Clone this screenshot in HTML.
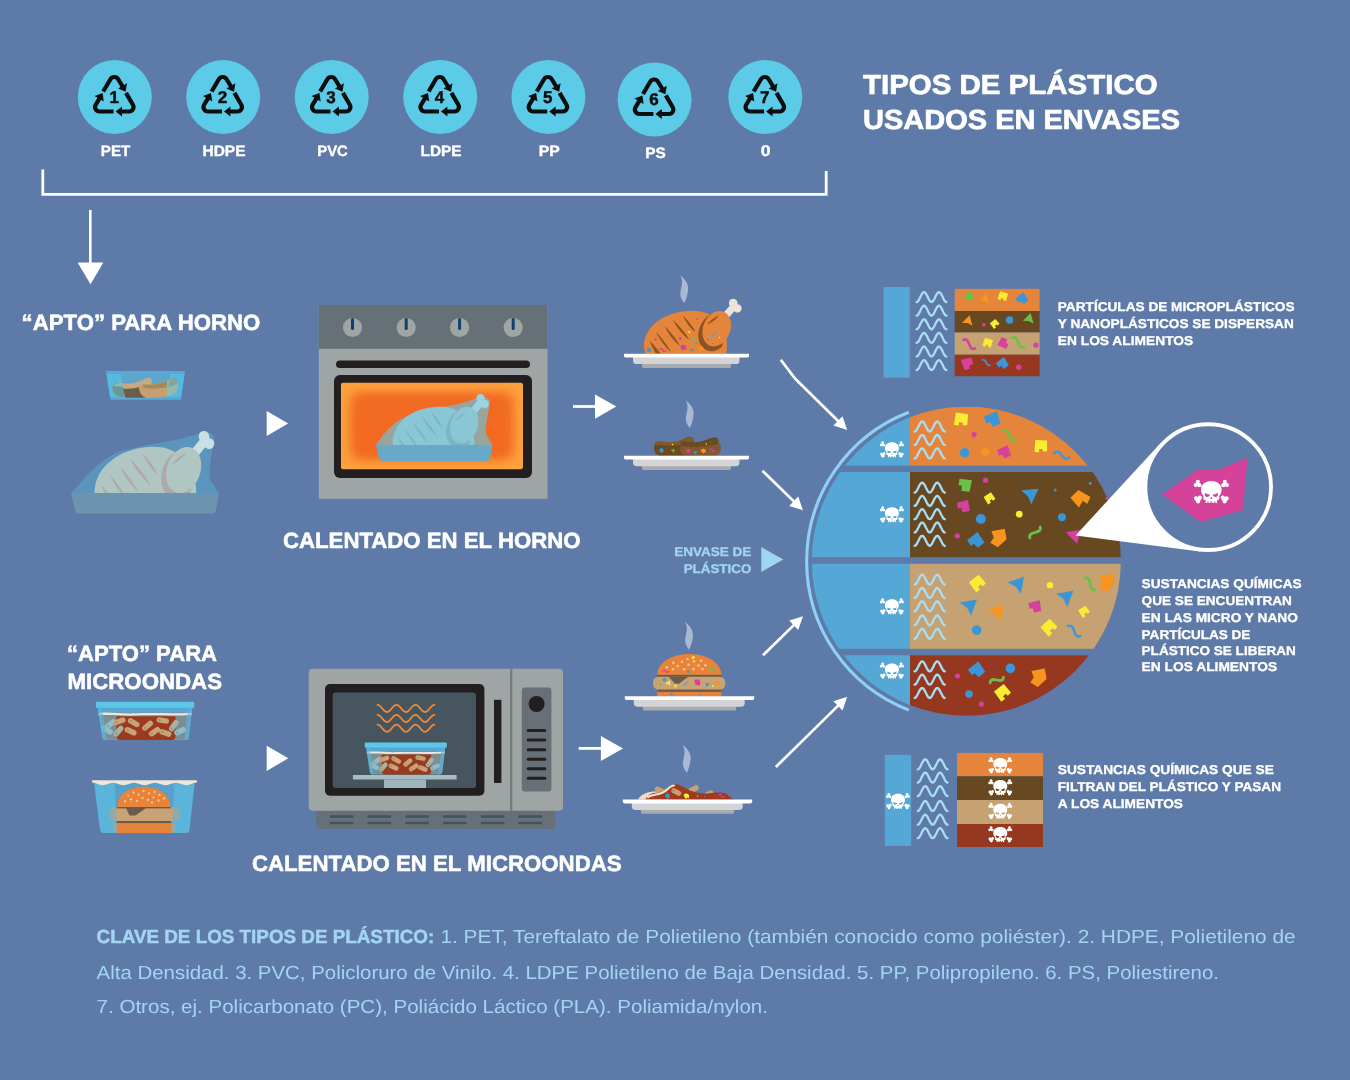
<!DOCTYPE html>
<html lang="es"><head><meta charset="utf-8"><title>Tipos de plástico usados en envases</title>
<style>
html,body{margin:0;padding:0;background:#5d7aa8;}
body{width:1350px;height:1080px;overflow:hidden;font-family:'Liberation Sans', sans-serif;}
svg{display:block;font-family:'Liberation Sans', sans-serif;}
text{text-rendering:geometricPrecision;}
</style></head><body>
<svg width="1350" height="1080" viewBox="0 0 1350 1080">
<rect width="1350" height="1080" fill="#5d7aa8"/>
<g opacity="0.999">
<defs>
<g id="rec" fill="none" stroke="#0d0d0d" stroke-width="4.2" stroke-linejoin="round">
<path d="M-11.6,-6 L-4.4,-18.25 A4.5 4.5 0 0 1 3.4,-18.25 L8.1,-10.5"/>
<path d="M11.2,-4.6 L18.1,7.25 A4.5 4.5 0 0 1 14.2,14 L6.5,14"/>
<path d="M-1.2,14 L-15.2,14 A4.5 4.5 0 0 1 -19.1,7.25 L-14.9,0.3"/>
<g fill="#0d0d0d" stroke="none">
<path d="M10.8,-5.8 L12.2,-14.2 L3.2,-9 Z"/>
<path d="M0.8,14 L7.2,9 L7.2,19 Z"/>
<path d="M-12.2,-4.4 L-20.2,-1.4 L-11,3.9 Z"/>
</g></g></defs>
<circle cx="114.8" cy="97" r="37" fill="#5bcbe8"/>
<use href="#rec" x="114.8" y="97.5"/>
<text x="114.2" y="102.6" font-size="17" font-weight="bold" fill="#0d0d0d" text-anchor="middle" stroke="#0d0d0d" stroke-width="0.43" stroke-linejoin="round">1</text>
<text x="100.85" y="156.1" font-size="15" font-weight="bold" fill="#fff" text-anchor="start" stroke="#fff" stroke-width="0.38" stroke-linejoin="round" textLength="29.5" lengthAdjust="spacingAndGlyphs">PET</text>
<circle cx="223.2" cy="97" r="37" fill="#5bcbe8"/>
<use href="#rec" x="223.2" y="97.5"/>
<text x="222.6" y="102.6" font-size="17" font-weight="bold" fill="#0d0d0d" text-anchor="middle" stroke="#0d0d0d" stroke-width="0.43" stroke-linejoin="round">2</text>
<text x="202.5" y="156.1" font-size="15" font-weight="bold" fill="#fff" text-anchor="start" stroke="#fff" stroke-width="0.38" stroke-linejoin="round" textLength="43" lengthAdjust="spacingAndGlyphs">HDPE</text>
<circle cx="331.7" cy="97" r="37" fill="#5bcbe8"/>
<use href="#rec" x="331.7" y="97.5"/>
<text x="331.09999999999997" y="102.6" font-size="17" font-weight="bold" fill="#0d0d0d" text-anchor="middle" stroke="#0d0d0d" stroke-width="0.43" stroke-linejoin="round">3</text>
<text x="317.25" y="156.1" font-size="15" font-weight="bold" fill="#fff" text-anchor="start" stroke="#fff" stroke-width="0.38" stroke-linejoin="round" textLength="30.5" lengthAdjust="spacingAndGlyphs">PVC</text>
<circle cx="440.2" cy="97" r="37" fill="#5bcbe8"/>
<use href="#rec" x="440.2" y="97.5"/>
<text x="439.59999999999997" y="102.6" font-size="17" font-weight="bold" fill="#0d0d0d" text-anchor="middle" stroke="#0d0d0d" stroke-width="0.43" stroke-linejoin="round">4</text>
<text x="420.5" y="156.1" font-size="15" font-weight="bold" fill="#fff" text-anchor="start" stroke="#fff" stroke-width="0.38" stroke-linejoin="round" textLength="41" lengthAdjust="spacingAndGlyphs">LDPE</text>
<circle cx="548.4" cy="97" r="37" fill="#5bcbe8"/>
<use href="#rec" x="548.4" y="97.5"/>
<text x="547.8" y="102.6" font-size="17" font-weight="bold" fill="#0d0d0d" text-anchor="middle" stroke="#0d0d0d" stroke-width="0.43" stroke-linejoin="round">5</text>
<text x="538.6999999999999" y="156.1" font-size="15" font-weight="bold" fill="#fff" text-anchor="start" stroke="#fff" stroke-width="0.38" stroke-linejoin="round" textLength="21" lengthAdjust="spacingAndGlyphs">PP</text>
<circle cx="654.6" cy="99.5" r="37" fill="#5bcbe8"/>
<use href="#rec" x="654.6" y="100.0"/>
<text x="654.0" y="105.1" font-size="17" font-weight="bold" fill="#0d0d0d" text-anchor="middle" stroke="#0d0d0d" stroke-width="0.43" stroke-linejoin="round">6</text>
<text x="645.15" y="157.8" font-size="15" font-weight="bold" fill="#fff" text-anchor="start" stroke="#fff" stroke-width="0.38" stroke-linejoin="round" textLength="20.5" lengthAdjust="spacingAndGlyphs">PS</text>
<circle cx="765.3" cy="97" r="37" fill="#5bcbe8"/>
<use href="#rec" x="765.3" y="97.5"/>
<text x="764.6999999999999" y="102.6" font-size="17" font-weight="bold" fill="#0d0d0d" text-anchor="middle" stroke="#0d0d0d" stroke-width="0.43" stroke-linejoin="round">7</text>
<text x="760.6999999999999" y="156.4" font-size="15.5" font-weight="bold" fill="#fff" text-anchor="start" stroke="#fff" stroke-width="0.39" stroke-linejoin="round" textLength="9.8" lengthAdjust="spacingAndGlyphs">0</text>
<path d="M42.8,169.5 V194.3 H826.2 V171" fill="none" stroke="#fff" stroke-width="2.8"/>
<path d="M90.3,210 V265" stroke="#fff" stroke-width="2.6" fill="none"/>
<path d="M77.6,262.5 H103.4 L90.5,284.2 Z" fill="#fff"/>
<text x="863" y="93.9" font-size="27.5" font-weight="bold" fill="#fff" text-anchor="start" stroke="#fff" stroke-width="0.69" stroke-linejoin="round" textLength="294.6" lengthAdjust="spacingAndGlyphs">TIPOS DE PLÁSTICO</text>
<text x="863" y="129.4" font-size="27.5" font-weight="bold" fill="#fff" text-anchor="start" stroke="#fff" stroke-width="0.69" stroke-linejoin="round" textLength="317" lengthAdjust="spacingAndGlyphs">USADOS EN ENVASES</text>
<text x="21.6" y="330" font-size="22" font-weight="bold" fill="#fff" text-anchor="start" stroke="#fff" stroke-width="0.55" stroke-linejoin="round" textLength="238.6" lengthAdjust="spacingAndGlyphs">“APTO” PARA HORNO</text>
<text x="283" y="547.5" font-size="22" font-weight="bold" fill="#fff" text-anchor="start" stroke="#fff" stroke-width="0.55" stroke-linejoin="round" textLength="297.5" lengthAdjust="spacingAndGlyphs">CALENTADO EN EL HORNO</text>
<text x="67" y="661" font-size="22" font-weight="bold" fill="#fff" text-anchor="start" stroke="#fff" stroke-width="0.55" stroke-linejoin="round" textLength="150" lengthAdjust="spacingAndGlyphs">“APTO” PARA</text>
<text x="67.5" y="688.7" font-size="22" font-weight="bold" fill="#fff" text-anchor="start" stroke="#fff" stroke-width="0.55" stroke-linejoin="round" textLength="154.5" lengthAdjust="spacingAndGlyphs">MICROONDAS</text>
<text x="251.9" y="870.7" font-size="22" font-weight="bold" fill="#fff" text-anchor="start" stroke="#fff" stroke-width="0.55" stroke-linejoin="round" textLength="369.7" lengthAdjust="spacingAndGlyphs">CALENTADO EN EL MICROONDAS</text>
<path d="M266.7,411 L288.2,423.5 L266.7,436 Z" fill="#fff"/>
<path d="M266.7,745.7 L288.3,758.3 L266.7,770.9 Z" fill="#fff"/>
<path d="M573,406.5 H598" stroke="#fff" stroke-width="2.8"/><path d="M595,394.5 L616.3,406.6 L595,418.8 Z" fill="#fff"/>
<path d="M578.7,748.4 H604" stroke="#fff" stroke-width="2.8"/><path d="M600.9,736 L623,748.5 L600.9,761 Z" fill="#fff"/>
<g>
<path d="M106,371 H185 L181,399.8 H110.5 Z" fill="#57aad6"/>
<path d="M115.5,374.5 H176 L173,396.5 H118.5 Z" fill="#5ea6cc"/>
<path d="M106.5,374 H121 L124,397 H110 Z" fill="#55bde4" opacity=".85"/>
<path d="M170.5,374 H184.5 L181,397 H167 Z" fill="#55bde4" opacity=".85"/>
<path d="M112.5,390 C111,384 116,381.5 123,383 C131,385 139,382 146,378.5 C150,376.5 153,379 151.5,383 L150,397.5 H122 C116,397.5 113.5,394 112.5,390 Z" fill="#c3ab84"/>
<path d="M122.5,388.500 C130,389.500 138,388 146,385 L145,397.8 H125.5 Z" fill="#6b5d4c"/>
<path d="M112.5,390 C111,384 116,381.5 122,383 L125,397.5 C117,397.5 113.5,394 112.5,390 Z" fill="#65999a"/>
<path d="M113.500,386.500 C114.500,383 118,382.200 122,383 L122.700,387.200 C119,386 116,386 113.500,386.500 Z" fill="#8db9b1"/>
<path d="M139,388 C138.5,384.5 143,383.5 150,384 C159,384.5 166,381.5 171,379 C176,377 178.5,380 177,384 C179,387 178,391 174,393.5 C169,396 163,397.5 156,397.5 H146 C141,396 139.5,392 139,388 Z" fill="#c6a06e"/>
<path d="M143,384.5 C152,385.5 163,383.5 171,379 C176,377 178.5,380 176.5,384 C168,388.5 152,389.5 143,387.5 Z" fill="#a38a5f"/>
<path d="M167,381 C172,377.5 178.5,378 177,384 C179,387 178,391 174,393.5 C171.500,395 169,396 166.500,396.500 Z" fill="#93b9ad"/>
<path d="M169.500,380 C173.500,377.500 178.500,378 177,384 C174.500,385.500 171.500,386.500 168.500,387.200 Z" fill="#7fa99c"/>
</g>
<g>
<path d="M71.500,493 C85,478 96,462 118,452 C145,444 180,441 199,433.500 C206,431 211,432 214.500,436.500 C213,452 208,468 210,480 L219,493 Z" fill="#5b95bd"/>
<g transform="translate(93.400 470) scale(1.225 1.300) translate(-643 -328.700)"><path d="M723,318 L731.500,308.500 C729.500,304.500 732,301 735.500,301.500 C738.500,302 739.800,304.500 739.300,307 C742.500,307 744.500,310 743,313 C741.500,316 738,316 736,314 L728.500,323 Z" fill="#c8e0e3" transform="translate(-1.800 -2.800)"/><path d="M645.500,353.700 C640,339 650,321 672,314 C690,308.500 706,310.500 714,318 C724,327 729.500,340 726,353.700 Z" fill="#b0c6c3"/><g fill="#afa9ad"><path d="M649.500,340.500 C653,344 657.500,349.500 660.500,353.700 L656,353.700 C653.500,349.500 651,344.500 649.500,340.500 Z"/><path d="M656,332 C662,338 668,346.500 671,352 C665.500,347.500 659.500,339 656,332 Z"/><path d="M664.500,326 C671,332 677,340.500 680,346 C674,341.500 668,333 664.500,326 Z"/><path d="M673,320 C680,326 686.500,335 689.500,340 C683,335.500 676.500,327 673,320 Z"/><path d="M683,316 C689,321 693.500,328 695.500,332 C690,328.500 685.500,321.500 683,316 Z"/></g><clipPath id="ckct"><path d="M645.500,353.700 C640,339 650,321 672,314 C690,308.500 706,310.500 714,318 C724,327 729.500,340 726,353.700 Z"/></clipPath><ellipse cx="714.200" cy="332" rx="15.200" ry="19.800" transform="rotate(22 714.200 332)" fill="#afa9ad" clip-path="url(#ckct)"/><ellipse cx="716.700" cy="328.700" rx="13.600" ry="18.300" transform="rotate(22 716.700 328.700)" fill="#b0c6c3"/><path d="M707,324.500 C710,320.500 715,317 719,315.500 C716,319.500 711,323 707,324.500 Z" fill="#afa9ad"/></g>
<path d="M71,493 H219 L216,510 C215.500,512.500 214,513.500 212,513.500 H79 C77,513.500 75.500,512.500 75,510 Z" fill="#6d94ae"/>
</g>
<defs><filter id="hb" x="-20%" y="-20%" width="140%" height="140%"><feGaussianBlur stdDeviation="5.5"/></filter><clipPath id="hw"><rect x="340.800" y="382.500" width="182.200" height="87" rx="3"/></clipPath></defs>
<rect x="318.8" y="305" width="228.8" height="193.8" fill="#9fa5a5"/>
<rect x="318.8" y="305" width="228.8" height="43.8" fill="#667076"/>
<circle cx="352.5" cy="327.5" r="9.6" fill="#9fa5a5"/><path d="M352.5,319.5 V328.500" stroke="#0f3f6d" stroke-width="3" stroke-linecap="round"/>
<circle cx="406.2" cy="327.5" r="9.6" fill="#9fa5a5"/><path d="M406.2,319.5 V328.500" stroke="#0f3f6d" stroke-width="3" stroke-linecap="round"/>
<circle cx="459.6" cy="327.5" r="9.6" fill="#9fa5a5"/><path d="M459.6,319.5 V328.500" stroke="#0f3f6d" stroke-width="3" stroke-linecap="round"/>
<circle cx="513.2" cy="327.5" r="9.6" fill="#9fa5a5"/><path d="M513.2,319.5 V328.500" stroke="#0f3f6d" stroke-width="3" stroke-linecap="round"/>
<rect x="336" y="360.500" width="194" height="7.600" rx="3.800" fill="#231f20"/>
<rect x="334" y="375" width="198" height="103" rx="6" fill="#231f20"/>
<g clip-path="url(#hw)"><rect x="340.800" y="382.500" width="182.200" height="87" fill="#fda23e"/><rect x="350.800" y="392.500" width="162.200" height="67" rx="8" fill="#f26a21" filter="url(#hb)"/><rect x="356" y="398" width="152" height="56" rx="10" fill="#f26a21" filter="url(#hb)"/></g>
<g>
<path d="M376,445 C386,430 395,420 412,414 C432,408 458,406 474,399 C480,395.500 486,396 490,400 C489,412 485,424 486,434 L492.500,445 Z" fill="#98a59f"/>
<g transform="translate(464.250 425) scale(0.985 1.030) translate(-716.700 -328.700)"><path d="M723,318 L731.500,308.500 C729.500,304.500 732,301 735.500,301.500 C738.500,302 739.800,304.500 739.300,307 C742.500,307 744.500,310 743,313 C741.500,316 738,316 736,314 L728.500,323 Z" fill="#9ad4e2" transform="translate(-1.800 -2.800)"/><path d="M645.500,353.700 C640,339 650,321 672,314 C690,308.500 706,310.500 714,318 C724,327 729.500,340 726,353.700 Z" fill="#8ac7d4"/><g fill="#7fb4c6"><path d="M649.500,340.500 C653,344 657.500,349.500 660.500,353.700 L656,353.700 C653.500,349.500 651,344.500 649.500,340.500 Z"/><path d="M656,332 C662,338 668,346.500 671,352 C665.500,347.500 659.500,339 656,332 Z"/><path d="M664.500,326 C671,332 677,340.500 680,346 C674,341.500 668,333 664.500,326 Z"/><path d="M673,320 C680,326 686.500,335 689.500,340 C683,335.500 676.500,327 673,320 Z"/><path d="M683,316 C689,321 693.500,328 695.500,332 C690,328.500 685.500,321.500 683,316 Z"/></g><clipPath id="ckco"><path d="M645.500,353.700 C640,339 650,321 672,314 C690,308.500 706,310.500 714,318 C724,327 729.500,340 726,353.700 Z"/></clipPath><ellipse cx="714.200" cy="332" rx="15.200" ry="19.800" transform="rotate(22 714.200 332)" fill="#7fb4c6" clip-path="url(#ckco)"/><ellipse cx="716.700" cy="328.700" rx="13.600" ry="18.300" transform="rotate(22 716.700 328.700)" fill="#8ac7d4"/><path d="M707,324.500 C710,320.500 715,317 719,315.500 C716,319.500 711,323 707,324.500 Z" fill="#7fb4c6"/></g>
<path d="M376,445 H492.500 L490,458 C489.500,460 488.500,461 486.500,461 H382.500 C380.500,461 379.500,460 379,458 Z" fill="#67a9c6"/>
</g>
<rect x="316.400" y="806" width="239" height="22.700" rx="3" fill="#667076"/>
<rect x="308.700" y="668.700" width="254.300" height="142" rx="4" fill="#9fa5a5"/>
<rect x="510" y="668.700" width="2.400" height="142" fill="#737d80"/>
<rect x="325" y="684" width="159.400" height="111.800" rx="5" fill="#231f20"/>
<rect x="332.700" y="692.400" width="143.300" height="95.600" rx="3" fill="#46555e"/>
<rect x="494" y="699.800" width="7.400" height="83.200" fill="#231f20"/>
<rect x="521.800" y="687.600" width="29.600" height="104" rx="3" fill="#667076"/>
<circle cx="536.600" cy="704" r="8" fill="#231f20"/>
<path d="M528.200,730.6 H544.800" stroke="#231f20" stroke-width="3" stroke-linecap="round"/>
<path d="M528.200,740.1 H544.800" stroke="#231f20" stroke-width="3" stroke-linecap="round"/>
<path d="M528.200,749.7 H544.800" stroke="#231f20" stroke-width="3" stroke-linecap="round"/>
<path d="M528.200,759.2 H544.800" stroke="#231f20" stroke-width="3" stroke-linecap="round"/>
<path d="M528.200,768.8 H544.800" stroke="#231f20" stroke-width="3" stroke-linecap="round"/>
<path d="M528.200,778.3 H544.800" stroke="#231f20" stroke-width="3" stroke-linecap="round"/>
<path d="M330.8,816.5 H352.3" stroke="#3f5361" stroke-width="2.400" stroke-linecap="round"/>
<path d="M330.8,823 H352.3" stroke="#3f5361" stroke-width="2.400" stroke-linecap="round"/>
<path d="M368.6,816.5 H390.1" stroke="#3f5361" stroke-width="2.400" stroke-linecap="round"/>
<path d="M368.6,823 H390.1" stroke="#3f5361" stroke-width="2.400" stroke-linecap="round"/>
<path d="M406.3,816.5 H427.8" stroke="#3f5361" stroke-width="2.400" stroke-linecap="round"/>
<path d="M406.3,823 H427.8" stroke="#3f5361" stroke-width="2.400" stroke-linecap="round"/>
<path d="M444.1,816.5 H465.6" stroke="#3f5361" stroke-width="2.400" stroke-linecap="round"/>
<path d="M444.1,823 H465.6" stroke="#3f5361" stroke-width="2.400" stroke-linecap="round"/>
<path d="M481.8,816.5 H503.3" stroke="#3f5361" stroke-width="2.400" stroke-linecap="round"/>
<path d="M481.8,823 H503.3" stroke="#3f5361" stroke-width="2.400" stroke-linecap="round"/>
<path d="M519.5,816.5 H541.0" stroke="#3f5361" stroke-width="2.400" stroke-linecap="round"/>
<path d="M519.5,823 H541.0" stroke="#3f5361" stroke-width="2.400" stroke-linecap="round"/>
<polyline points="377.5,704.8 378.4,705.0 379.4,705.5 380.4,706.3 381.3,707.3 382.2,708.4 383.2,709.5 384.1,710.5 385.1,711.3 386.1,711.8 387.0,712.0 387.9,711.8 388.9,711.3 389.9,710.5 390.8,709.5 391.8,708.4 392.7,707.3 393.6,706.3 394.6,705.5 395.6,705.0 396.5,704.8 397.4,705.0 398.4,705.5 399.4,706.3 400.3,707.3 401.2,708.4 402.2,709.5 403.1,710.5 404.1,711.3 405.1,711.8 406.0,712.0 406.9,711.8 407.9,711.3 408.9,710.5 409.8,709.5 410.8,708.4 411.7,707.3 412.6,706.3 413.6,705.5 414.6,705.0 415.5,704.8 416.4,705.0 417.4,705.5 418.4,706.3 419.3,707.3 420.2,708.4 421.2,709.5 422.1,710.5 423.1,711.3 424.1,711.8 425.0,712.0 425.9,711.8 426.9,711.3 427.9,710.5 428.8,709.5 429.8,708.4 430.7,707.3 431.6,706.3 432.6,705.5 433.6,705.0 434.5,704.8" fill="none" stroke="#f0883a" stroke-width="1.800" stroke-linecap="round"/>
<polyline points="377.5,714.8 378.4,715.0 379.4,715.5 380.4,716.3 381.3,717.3 382.2,718.4 383.2,719.5 384.1,720.5 385.1,721.3 386.1,721.8 387.0,722.0 387.9,721.8 388.9,721.3 389.9,720.5 390.8,719.5 391.8,718.4 392.7,717.3 393.6,716.3 394.6,715.5 395.6,715.0 396.5,714.8 397.4,715.0 398.4,715.5 399.4,716.3 400.3,717.3 401.2,718.4 402.2,719.5 403.1,720.5 404.1,721.3 405.1,721.8 406.0,722.0 406.9,721.8 407.9,721.3 408.9,720.5 409.8,719.5 410.8,718.4 411.7,717.3 412.6,716.3 413.6,715.5 414.6,715.0 415.5,714.8 416.4,715.0 417.4,715.5 418.4,716.3 419.3,717.3 420.2,718.4 421.2,719.5 422.1,720.5 423.1,721.3 424.1,721.8 425.0,722.0 425.9,721.8 426.9,721.3 427.9,720.5 428.8,719.5 429.8,718.4 430.7,717.3 431.6,716.3 432.6,715.5 433.6,715.0 434.5,714.8" fill="none" stroke="#f0883a" stroke-width="1.800" stroke-linecap="round"/>
<polyline points="377.5,724.6 378.4,724.8 379.4,725.3 380.4,726.1 381.3,727.1 382.2,728.2 383.2,729.3 384.1,730.3 385.1,731.1 386.1,731.6 387.0,731.8 387.9,731.6 388.9,731.1 389.9,730.3 390.8,729.3 391.8,728.2 392.7,727.1 393.6,726.1 394.6,725.3 395.6,724.8 396.5,724.6 397.4,724.8 398.4,725.3 399.4,726.1 400.3,727.1 401.2,728.2 402.2,729.3 403.1,730.3 404.1,731.1 405.1,731.6 406.0,731.8 406.9,731.6 407.9,731.1 408.9,730.3 409.8,729.3 410.8,728.2 411.7,727.1 412.6,726.1 413.6,725.3 414.6,724.8 415.5,724.6 416.4,724.8 417.4,725.3 418.4,726.1 419.3,727.1 420.2,728.2 421.2,729.3 422.1,730.3 423.1,731.1 424.1,731.6 425.0,731.8 425.9,731.6 426.9,731.1 427.9,730.3 428.8,729.3 429.8,728.2 430.7,727.1 431.6,726.1 432.6,725.3 433.6,724.8 434.5,724.6" fill="none" stroke="#f0883a" stroke-width="1.800" stroke-linecap="round"/>
<rect x="352.900" y="775" width="103.700" height="4.500" fill="#a9bcc0"/>
<rect x="384" y="779.500" width="42" height="8.500" fill="#9fb6bd"/>
<use href="#pastabox" transform="translate(364.700 742.400) scale(0.836)"/>
<defs><g id="pastabox">
<path d="M1.600,5 H96.400 L92.800,35.500 C92.500,37.500 91.500,38.300 89.500,38.300 H9.500 C7.500,38.300 6.500,37.500 6.200,35.500 Z" fill="#5aa6d2"/>
<path d="M3.800,11 H94.400 L91.600,35.500 C91.400,37 90.600,37.500 89,37.500 H10 C8.400,37.500 7.600,37 7.400,35.500 Z" fill="#7c8e95"/>
<path d="M20.400,14.500 H79.500 V34.500 C79.500,37 78,38.300 76,38.300 H24 C22,38.300 20.400,37 20.400,34.500 Z" fill="#9c3a20"/>
<rect x="8.0" y="19.7" width="12.600" height="5.400" rx="2.700" fill="#8fbdc6" transform="rotate(-40 14.3 22.4)"/><circle cx="10.9" cy="22.4" r="1.300" fill="#000" opacity=".12" transform="rotate(-40 14.3 22.4)"/><rect x="4.9" y="25.8" width="12.600" height="5.400" rx="2.700" fill="#8fbdc6" transform="rotate(30 11.2 28.5)"/><circle cx="7.8" cy="28.5" r="1.300" fill="#000" opacity=".12" transform="rotate(30 11.2 28.5)"/><rect x="16.1" y="26.8" width="12.600" height="5.400" rx="2.700" fill="#a9b19f" transform="rotate(-50 22.4 29.5)"/><circle cx="19.0" cy="29.5" r="1.300" fill="#000" opacity=".12" transform="rotate(-50 22.4 29.5)"/><rect x="17.1" y="16.9" width="12.600" height="5.400" rx="2.700" fill="#c6a478" transform="rotate(-20 23.4 19.6)"/><circle cx="20.0" cy="19.6" r="1.300" fill="#000" opacity=".12" transform="rotate(-20 23.4 19.6)"/><rect x="31.4" y="18.3" width="12.600" height="5.400" rx="2.700" fill="#c6a478" transform="rotate(30 37.7 21)"/><circle cx="34.3" cy="21.0" r="1.300" fill="#000" opacity=".12" transform="rotate(30 37.7 21)"/><rect x="28.3" y="26.9" width="12.600" height="5.400" rx="2.700" fill="#c6a478" transform="rotate(25 34.6 29.6)"/><circle cx="31.2" cy="29.6" r="1.300" fill="#000" opacity=".12" transform="rotate(25 34.6 29.6)"/><rect x="45.3" y="21.3" width="12.600" height="5.400" rx="2.700" fill="#c6a478" transform="rotate(-40 51.6 24)"/><circle cx="48.2" cy="24.0" r="1.300" fill="#000" opacity=".12" transform="rotate(-40 51.6 24)"/><rect x="52.2" y="27.3" width="12.600" height="5.400" rx="2.700" fill="#c6a478" transform="rotate(-35 58.5 30)"/><circle cx="55.1" cy="30.0" r="1.300" fill="#000" opacity=".12" transform="rotate(-35 58.5 30)"/><rect x="60.5" y="16.1" width="12.600" height="5.400" rx="2.700" fill="#c6a478" transform="rotate(10 66.8 18.8)"/><circle cx="63.4" cy="18.8" r="1.300" fill="#000" opacity=".12" transform="rotate(10 66.8 18.8)"/><rect x="63.0" y="28.5" width="12.600" height="5.400" rx="2.700" fill="#c6a478" transform="rotate(20 69.3 31.2)"/><circle cx="65.9" cy="31.2" r="1.300" fill="#000" opacity=".12" transform="rotate(20 69.3 31.2)"/><rect x="71.5" y="21.3" width="12.600" height="5.400" rx="2.700" fill="#a9b19f" transform="rotate(-55 77.8 24)"/><circle cx="74.4" cy="24.0" r="1.300" fill="#000" opacity=".12" transform="rotate(-55 77.8 24)"/><rect x="77.8" y="26.8" width="12.600" height="5.400" rx="2.700" fill="#8fbdc6" transform="rotate(-25 84.1 29.5)"/><circle cx="80.7" cy="29.5" r="1.300" fill="#000" opacity=".12" transform="rotate(-25 84.1 29.5)"/>
<path d="M2.500,11.200 C15,10.200 25,12.200 40,11.600 C60,10.800 75,12.400 95.700,11 L95.500,13.300 C75,14.600 60,13 40,13.900 C25,14.400 15,12.600 2.800,13.600 Z" fill="#efe6d8"/>
<path d="M1.600,6 H6 L10.500,38.300 H9.500 C7.500,38.300 6.500,37.500 6.200,35.500 Z" fill="#5bb7e0" opacity=".6"/>
<path d="M96.400,6 H92 L88,38.300 H89.500 C91.500,38.300 92.500,37.500 92.800,35.500 Z" fill="#5bb7e0" opacity=".6"/>
<path d="M0,1.500 C0,.5 .5,0 1.500,0 H96.700 C97.700,0 98.200,.5 98.200,1.500 V6.100 H0 Z" fill="#5bc8e8"/>
</g></defs>
<use href="#pastabox" transform="translate(96 701.700)"/>
<g>
<path d="M94,782 H194.800 L189.500,829.500 C189.200,832 188,833 185.500,833 H104 C101.500,833 100.300,832 100,829.500 Z" fill="#5bb4da"/>
<path d="M114.500,782 H174.500 L172.500,833 H116.500 Z" fill="#589fca"/>
<path d="M117,807 C117,795 129,786.800 143.700,786.800 C158.500,786.800 170.400,795 170.400,807 Z" fill="#e8843a"/>
<circle cx="128.5" cy="795.5" r="1.150" fill="#f7c58f"/><circle cx="133.5" cy="792.5" r="1.150" fill="#f7c58f"/><circle cx="138.5" cy="794.5" r="1.150" fill="#f7c58f"/><circle cx="143.5" cy="791" r="1.150" fill="#f7c58f"/><circle cx="149" cy="793.5" r="1.150" fill="#f7c58f"/><circle cx="154.5" cy="792" r="1.150" fill="#f7c58f"/><circle cx="159.5" cy="795" r="1.150" fill="#f7c58f"/><circle cx="131" cy="799.5" r="1.150" fill="#f7c58f"/><circle cx="137" cy="801" r="1.150" fill="#f7c58f"/><circle cx="142.5" cy="798" r="1.150" fill="#f7c58f"/><circle cx="148" cy="800" r="1.150" fill="#f7c58f"/><circle cx="153.5" cy="797.5" r="1.150" fill="#f7c58f"/><circle cx="158.5" cy="800.5" r="1.150" fill="#f7c58f"/><circle cx="164" cy="798.5" r="1.150" fill="#f7c58f"/><circle cx="125" cy="801.5" r="1.150" fill="#f7c58f"/><circle cx="152" cy="802.5" r="1.150" fill="#f7c58f"/>
<rect x="110" y="807" width="70" height="14.500" rx="5" fill="#c8a375"/>
<path d="M125.500,807 H147.500 L135.500,815.500 L129.500,815.500 Z" fill="#6b5b4b"/>
<rect x="116.500" y="807" width="54.500" height="1.400" fill="#6b5b4b"/>
<rect x="116.500" y="821" width="54.500" height="2.400" fill="#6b5b4b"/>
<path d="M113.500,823.400 H175.800 V829 C175.800,832 174.500,833 172.500,833 H117 C115,833 113.500,832 113.500,829 Z" fill="#c8a375"/><path d="M116.800,823.400 H171.800 V833 H116.800 Z" fill="#e8843a"/>
<path d="M94,782 H115.300 L117,833 H104 C101.500,833 100.300,832 100,829.500 Z" fill="#5bb4da" opacity=".5"/>
<path d="M194.800,782 H173.800 L172,833 H185.500 C188,833 189.200,832 189.500,829.500 Z" fill="#5bb4da" opacity=".5"/>
<path d="M92,780.300 H196.900 V782.600 C192,783 190,785.200 186.400,785.200 C182.800,785.200 180,782.800 176,782.800 C172,782.800 169.500,785.200 165.500,785.200 C161.500,785.200 159,782.800 155,782.800 C151,782.800 148.500,785.200 144.500,785.200 C140.500,785.200 138,782.800 134,782.800 C130,782.800 127.500,785.200 123.500,785.200 C119.500,785.200 117,782.800 113,782.800 C109,782.800 106.500,785.200 102.500,785.200 C99,785.200 97,783 92,782.600 Z" fill="#efe6dc"/>
</g>
<path d="M680,275 C685.5,279.5 689.0,284.0 688.0,290.5 C687.5,295.0 686.5,298.5 684.3,303.0 C681.5,299.5 679.7,296.0 680.5,291.5 C681.5,286.0 683.5,281.0 680,275 Z" fill="#a9b8d4"/>
<path d="M723,318 L731.500,308.500 C729.500,304.500 732,301 735.500,301.500 C738.500,302 739.800,304.500 739.300,307 C742.500,307 744.500,310 743,313 C741.500,316 738,316 736,314 L728.500,323 Z" fill="#ece3da" transform="translate(-1.800 -2.800)"/><path d="M645.500,353.700 C640,339 650,321 672,314 C690,308.500 706,310.500 714,318 C724,327 729.500,340 726,353.700 Z" fill="#e5843b"/><g fill="#8c5422"><path d="M649.500,340.500 C653,344 657.500,349.500 660.500,353.700 L656,353.700 C653.500,349.500 651,344.500 649.500,340.500 Z"/><path d="M656,332 C662,338 668,346.500 671,352 C665.500,347.500 659.500,339 656,332 Z"/><path d="M664.500,326 C671,332 677,340.500 680,346 C674,341.500 668,333 664.500,326 Z"/><path d="M673,320 C680,326 686.500,335 689.500,340 C683,335.500 676.500,327 673,320 Z"/><path d="M683,316 C689,321 693.500,328 695.500,332 C690,328.500 685.500,321.500 683,316 Z"/></g><clipPath id="ckcp"><path d="M645.500,353.700 C640,339 650,321 672,314 C690,308.500 706,310.500 714,318 C724,327 729.500,340 726,353.700 Z"/></clipPath><ellipse cx="714.200" cy="332" rx="15.200" ry="19.800" transform="rotate(22 714.200 332)" fill="#8c5422" clip-path="url(#ckcp)"/><ellipse cx="716.700" cy="328.700" rx="13.600" ry="18.300" transform="rotate(22 716.700 328.700)" fill="#e5843b"/><path d="M707,324.500 C710,320.500 715,317 719,315.500 C716,319.500 711,323 707,324.500 Z" fill="#8c5422"/>
<polygon points="646.8,348.4 649.5,347.8 651.2,349.6 650.6,352.2 649.2,351.4 648.3,352.2 647.2,350.9" fill="#3a96d6" transform="rotate(10 649 350)"/>
<path d="M659.5,349.5 Q662.6,347.7 662.8,350.2 T666.0,351.0" fill="none" stroke="#d6409f" stroke-width="1.3" stroke-linecap="round"/>
<circle cx="655.5" cy="339.5" r="1.2" fill="#d6409f"/>
<circle cx="667.3" cy="337.3" r="0.8" fill="#3a96d6"/>
<circle cx="680.2" cy="338.5" r="1.4" fill="#d6409f"/>
<polygon points="680.5,345.4 684.1,344.5 686.5,346.9 685.6,350.5 683.8,349.3 682.6,350.5 681.1,348.7" fill="#d6409f" transform="rotate(-10 683.5 347.5)"/>
<circle cx="689.2" cy="332" r="1.1" fill="#f9ed32"/>
<polygon points="689.5,338.3 695.5,336.5 694.0,342.5 692.8,339.8" fill="#6cc04a" transform="rotate(20 692.5 339.5)"/>
<polygon points="690.2,348.1 694.8,346.8 693.6,351.2 692.7,349.2" fill="#3a96d6" transform="rotate(150 692.5 349)"/>
<polygon points="698.5,346.8 701.5,346.0 703.5,348.0 702.8,351.0 701.2,350.0 700.2,351.0 699.0,349.5" fill="#f7941d" transform="rotate(-20 701 348.5)"/>
<circle cx="696.5" cy="343" r="0.8" fill="#3a96d6"/>
<circle cx="697.3" cy="319" r="0.9" fill="#d6409f"/>
<path d="M712.5,336.5 Q712.6,334.8 714.5,334.0 T716.5,331.5" fill="none" stroke="#5b9ecf" stroke-width="1.1" stroke-linecap="round"/>
<circle cx="708.3" cy="339.5" r="1" fill="#3a96d6"/>
<circle cx="719.5" cy="337.5" r="0.7" fill="#f9ed32"/>
<circle cx="712.5" cy="343.5" r="0.6" fill="#d6409f"/>
<path d="M642.0,362.7 H731.0 V366.2 C731.0,367.9 730.0,367.9 728.5,367.9 H644.5 C643.0,367.9 642.0,367.9 642.0,366.2 Z" fill="#a9abae"/>
<path d="M633.0,355.7 H739.5 V360.7 C739.5,363.2 738.0,364.1 735.5,364.1 H637.0 C634.5,364.1 633.0,363.2 633.0,360.7 Z" fill="#d3d4d6"/>
<path d="M624.0,353.7 H749.0 V355.7 C749.0,356.9 748.3,357.5 747.0,357.5 H626.0 C624.7,357.5 624.0,356.9 624.0,355.7 Z" fill="#fff"/>
<path d="M685.5,400 C691.0,404.5 694.5,409.0 693.5,415.5 C693.0,420.0 692.0,423.5 689.8,428.0 C687.0,424.5 685.2,421.0 686.0,416.5 C687.0,411.0 689.0,406.0 685.5,400 Z" fill="#a9b8d4"/>
<path d="M654.100,448.500 C654.100,444 655.500,441.500 659,441.500 C664,441.800 670,442.500 676.500,441.700 C681,441 684,438.500 687,437.300 C690.500,436 693.500,437 693.600,440 L693.600,455.800 H662 C657,455.800 654.100,453 654.100,448.500 Z" fill="#6b4a21"/>
<path d="M655.800,445.200 C655,442.500 656.500,441.300 659,441.500 C664,441.800 670,442.500 676.500,441.700 C681,441 684,438.500 687,437.300 C690.500,436 693.500,437 693.600,440 C693.300,442 692,442.600 690,442.900 C686,443.600 682,445 676.500,445.400 C670,445.800 662,444.700 655.800,445.200 Z" fill="#80592f"/>
<path d="M680.300,449.500 C680.300,446 681.500,443.500 684,443.200 L717,442 C720,443 721.200,446 720.900,448.800 C720.500,452.500 718,455.800 713,455.800 H687 C683,455.800 680.300,453.500 680.300,449.500 Z" fill="#80592f"/>
<path d="M681,444 C680.800,441.800 682,440.800 684.500,441.200 C688,441.800 692,442.500 695.400,442.300 C700,442 704,440.500 708,439.200 C710.500,438.300 712.500,437.300 714.500,437.200 C717,437 718.500,438.500 718.500,440.500 C718.600,442.500 718.300,443.500 717.500,444 C714,445 711,445.200 708,445.600 C704,446.300 700,447 695.400,447 C691,447 686,446.300 682.800,446 C681.500,445.600 681,445 681,444 Z" fill="#6b4a21"/>
<polygon points="659.2,448.9 662.0,448.2 663.8,450.1 663.1,452.8 661.7,451.9 660.8,452.8 659.7,451.4" fill="#3a96d6" transform="rotate(30 661.5 450.5)"/>
<polygon points="670.2,450.1 674.8,448.8 673.6,453.2 672.7,451.2" fill="#6cc04a" transform="rotate(10 672.5 451)"/>
<circle cx="672.5" cy="444.5" r="0.8" fill="#f9ed32"/>
<polygon points="686.2,449.4 689.0,448.8 690.8,450.6 690.1,453.2 688.7,452.4 687.8,453.2 686.7,451.9" fill="#d6409f" transform="rotate(-10 688.5 451)"/>
<polygon points="693.2,450.6 697.8,449.2 696.6,453.8 695.7,451.7" fill="#3a96d6" transform="rotate(150 695.5 451.5)"/>
<polygon points="701.0,449.2 704.0,448.5 706.0,450.5 705.2,453.5 703.8,452.5 702.8,453.5 701.5,452.0" fill="#f7941d" transform="rotate(-20 703.5 451)"/>
<path d="M709.5,449.5 Q712.2,448.0 712.2,450.2 T715.0,451.0" fill="none" stroke="#d6409f" stroke-width="1.2" stroke-linecap="round"/>
<circle cx="706.3" cy="444" r="0.8" fill="#f9ed32"/>
<circle cx="701.5" cy="444" r="0.5" fill="#d6409f"/>
<circle cx="710.5" cy="442" r="0.5" fill="#3a96d6"/>
<circle cx="709.5" cy="452.5" r="0.7" fill="#3a96d6"/>
<path d="M642.0,464.8 H731.0 V468.3 C731.0,470.0 730.0,470.0 728.5,470.0 H644.5 C643.0,470.0 642.0,470.0 642.0,468.3 Z" fill="#a9abae"/>
<path d="M633.0,457.8 H739.5 V462.8 C739.5,465.3 738.0,466.2 735.5,466.2 H637.0 C634.5,466.2 633.0,465.3 633.0,462.8 Z" fill="#d3d4d6"/>
<path d="M624.0,455.8 H749.0 V457.8 C749.0,459.0 748.3,459.6 747.0,459.6 H626.0 C624.7,459.6 624.0,459.0 624.0,457.8 Z" fill="#fff"/>
<path d="M684.8,621.8 C690.3,626.3 693.8,630.8 692.8,637.3 C692.3,641.8 691.3,645.3 689.1,649.8 C686.3,646.3 684.5,642.8 685.3,638.3 C686.3,632.8 688.3,627.8 684.8,621.8 Z" fill="#a9b8d4"/>
<path d="M657.200,675.200 C657.200,663 671,654 689.300,654 C707.500,654 721.400,663 721.400,675.200 Z" fill="#e8843a"/>
<circle cx="666.8" cy="667.2" r="1.25" fill="#f7c58f"/>
<circle cx="673.3" cy="662.8" r="1.25" fill="#f7c58f"/>
<circle cx="677.8" cy="666" r="1.25" fill="#f7c58f"/>
<circle cx="682" cy="661.8" r="1.25" fill="#f7c58f"/>
<circle cx="687.5" cy="659" r="1.25" fill="#f7c58f"/>
<circle cx="688.5" cy="664.7" r="1.25" fill="#f7c58f"/>
<circle cx="694" cy="661.2" r="1.25" fill="#f7c58f"/>
<circle cx="701.2" cy="660.8" r="1.25" fill="#f7c58f"/>
<circle cx="698.5" cy="665.5" r="1.25" fill="#f7c58f"/>
<circle cx="705.5" cy="665.3" r="1.25" fill="#f7c58f"/>
<circle cx="673" cy="669.2" r="1.25" fill="#f7c58f"/>
<circle cx="684" cy="669.3" r="1.25" fill="#f7c58f"/>
<circle cx="693.5" cy="669" r="1.25" fill="#f7c58f"/>
<circle cx="702.5" cy="669" r="1.25" fill="#f7c58f"/>
<circle cx="693.2" cy="657.5" r="1.5" fill="#f9ed32"/>
<rect x="657" y="674.800" width="64.500" height="2.200" fill="#6b5b4a"/>
<rect x="653" y="676.700" width="72.300" height="13" rx="5.500" fill="#c8a374"/>
<path d="M668.300,676.600 H688.500 L679,683.800 L675,683.800 Z" fill="#6b5b4a"/>
<rect x="658" y="689.600" width="63" height="2.400" fill="#6b5b4a"/>
<rect x="657.200" y="691.900" width="64.200" height="4.600" fill="#e8843a"/>
<path d="M662.5,671.0 Q665.0,669.2 665.5,671.2 T668.5,671.5" fill="none" stroke="#d6409f" stroke-width="1.2" stroke-linecap="round"/>
<circle cx="688.3" cy="671.8" r="1.3" fill="#3a96d6"/>
<polygon points="708.2,668.2 714.8,666.2 713.1,672.8 711.8,669.8" fill="#6cc04a" transform="rotate(10 711.5 669.5)"/>
<circle cx="664.5" cy="679.8" r="1.9" fill="#3a96d6"/>
<circle cx="660.3" cy="684.6" r="1" fill="#6cc04a"/>
<polygon points="665.0,682.8 671.0,681.0 669.5,687.0 668.3,684.3" fill="#f9ed32" transform="rotate(-20 668 684)"/>
<circle cx="675.5" cy="686" r="1.4" fill="#f9ed32"/>
<path d="M683.5,686.0 Q683.8,684.3 685.5,683.8 T687.5,681.5" fill="none" stroke="#5b9ecf" stroke-width="1.2" stroke-linecap="round"/>
<polygon points="694.2,680.2 698.1,679.2 700.8,681.9 699.8,685.8 697.8,684.5 696.5,685.8 694.9,683.8" fill="#d6409f" transform="rotate(10 697.5 682.5)"/>
<polygon points="705.0,682.5 710.0,681.0 708.8,686.0 707.8,683.8" fill="#3a96d6" transform="rotate(150 707.5 683.5)"/>
<circle cx="712.7" cy="686" r="1" fill="#f9ed32"/>
<polygon points="714.8,681.1 718.0,680.2 720.2,682.5 719.4,685.8 717.8,684.6 716.7,685.8 715.3,684.1" fill="#f7941d" transform="rotate(-20 717.5 683)"/>
<circle cx="671.5" cy="693.8" r="1.4" fill="#3a96d6"/>
<circle cx="700.5" cy="694" r="0.8" fill="#3a96d6"/>
<circle cx="663" cy="693.5" r="0.6" fill="#3a96d6"/>
<path d="M642.8,705.3 H736.2 V708.8 C736.2,710.5 735.2,710.5 733.7,710.5 H645.3 C643.8,710.5 642.8,710.5 642.8,708.8 Z" fill="#a9abae"/>
<path d="M633.8,698.3 H744.7 V703.3 C744.7,705.8 743.2,706.7 740.7,706.7 H637.8 C635.3,706.7 633.8,705.8 633.8,703.3 Z" fill="#d3d4d6"/>
<path d="M624.8,696.3 H754.2 V698.3 C754.2,699.5 753.5,700.1 752.2,700.1 H626.8 C625.5,700.1 624.8,699.5 624.8,698.3 Z" fill="#fff"/>
<path d="M682.5,744.7 C688.0,749.2 691.5,753.7 690.5,760.2 C690.0,764.7 689.0,768.2 686.8,772.7 C684.0,769.2 682.2,765.7 683.0,761.2 C684.0,755.7 686.0,750.7 682.5,744.7 Z" fill="#a9b8d4"/>
<path d="M637.900,799.600 C641,794 648,791.500 656,791.500 C664,791.500 668,787.500 672.500,786 L668,799.600 Z" fill="#ecdcc8"/>
<rect x="654.500" y="787.800" width="11" height="5" rx="2.500" transform="rotate(25 660 790.300)" fill="#c6a172"/>
<rect x="688" y="786.500" width="11" height="5.500" rx="2.700" transform="rotate(-30 693.500 789.200)" fill="#c6a172"/>
<rect x="704" y="791.300" width="9.500" height="4.600" rx="2.300" transform="rotate(-20 708.700 793.600)" fill="#c6a172"/>
<path d="M645.600,799.600 C647,794.500 652,793 658,792.500 C665,792 669,786 673.500,784.500 C678,783.500 684,787.500 690,790.500 C697,793.500 705,794 712,793 C720,792 726,792.500 729,796 C731,798 732.500,799 733.900,799.600 Z" fill="#a03a1e"/>
<path d="M648,797 C652,794 660,795.500 666,790.500 C669,788 671,785.500 674,785.500" fill="none" stroke="#efe2d0" stroke-width="2.200" stroke-linecap="round"/>
<rect x="671" y="789.500" width="10.500" height="5" rx="2.500" transform="rotate(28 676.200 792)" fill="#c6a172"/><circle cx="673.300" cy="790.500" r="1.300" fill="#a88a5e"/>
<circle cx="652.8" cy="797.2" r="0.9" fill="#d6409f"/>
<polygon points="665.0,794.2 668.0,793.5 670.0,795.5 669.2,798.5 667.8,797.5 666.8,798.5 665.5,797.0" fill="#3a96d6" transform="rotate(40 667.5 796)"/>
<polygon points="683.8,794.1 687.0,793.2 689.2,795.5 688.4,798.8 686.8,797.6 685.7,798.8 684.3,797.1" fill="#f9ed32" transform="rotate(-10 686.5 796)"/>
<circle cx="697.5" cy="796" r="0.9" fill="#6cc04a"/>
<circle cx="705" cy="796.5" r="0.7" fill="#3a96d6"/>
<path d="M718.5,795.0 Q721.4,793.4 721.5,795.8 T724.5,796.5" fill="none" stroke="#d6409f" stroke-width="1.1" stroke-linecap="round"/>
<path d="M640.8,808.6 H734.2 V812.1 C734.2,813.8 733.2,813.8 731.7,813.8 H643.3 C641.8,813.8 640.8,813.8 640.8,812.1 Z" fill="#a9abae"/>
<path d="M631.8,801.6 H742.7 V806.6 C742.7,809.1 741.2,810.0 738.7,810.0 H635.8 C633.3,810.0 631.8,809.1 631.8,806.6 Z" fill="#d3d4d6"/>
<path d="M622.8,799.6 H752.2 V801.6 C752.2,802.8 751.5,803.4 750.2,803.4 H624.8 C623.5,803.4 622.8,802.8 622.8,801.6 Z" fill="#fff"/>
<path d="M798.3,381.7 L839.4,422.3" stroke="#fff" stroke-width="2.700" fill="none"/>
<path d="M847.2,430.0 L833.4,425.5 L842.5,416.2 Z" fill="#fff"/>
<path d="M780.800,359.700 L790,372 Q794,378 799.500,383" stroke="#fff" stroke-width="2.700" fill="none"/>
<path d="M762.5,470.8 L795.1,502.6" stroke="#fff" stroke-width="2.700" fill="none"/>
<path d="M803.0,510.3 L789.2,505.9 L798.2,496.6 Z" fill="#fff"/>
<path d="M763.0,655.3 L795.1,623.9" stroke="#fff" stroke-width="2.700" fill="none"/>
<path d="M803.0,616.2 L798.2,629.9 L789.2,620.6 Z" fill="#fff"/>
<path d="M775.8,767.0 L839.4,704.4" stroke="#fff" stroke-width="2.700" fill="none"/>
<path d="M847.2,696.7 L842.5,710.5 L833.4,701.2 Z" fill="#fff"/>
<defs><g id="skull" fill="#fff">
<path fill-rule="evenodd" d="M-0.100,-7.500 C4.200,-7.500 6.900,-4.900 6.900,-1.600 C6.900,0.200 6.300,1.600 5.300,2.600 L5.300,4.300 C5.300,5.100 4.800,5.500 4.100,5.500 L3.800,5.500 L3.800,7.500 L2.600,7.500 L2.600,6.600 L1.800,6.600 L1.800,7.600 L0.500,7.600 L0.500,6.600 L-0.700,6.600 L-0.700,7.600 L-2,7.600 L-2,6.600 L-2.800,6.600 L-2.800,7.500 L-4,7.500 L-4,5.500 L-4.300,5.500 C-5,5.500 -5.500,5.100 -5.500,4.300 L-5.500,2.600 C-6.500,1.600 -7.100,0.200 -7.100,-1.600 C-7.100,-4.900 -4.400,-7.500 -0.100,-7.500 Z
M-4.600,0.700 C-5,2.300 -4.100,3.500 -2.900,3.400 C-1.600,3.300 -0.900,2.600 -1,1.800 C-2.200,1.700 -3.600,1.300 -4.600,0.700 Z
M4.400,0.700 C4.800,2.300 3.900,3.500 2.700,3.400 C1.400,3.300 0.700,2.600 0.800,1.800 C2,1.700 3.400,1.300 4.400,0.700 Z
M-0.100,3.300 L0.650,4.800 L-0.850,4.800 Z"/>
<g id="bn"><circle cx="-9.300" cy="-7" r="1.350"/><circle cx="-10.700" cy="-4.700" r="1.400"/><circle cx="-8.200" cy="-4.600" r="1.400"/><path d="M-10.400,-5.800 L-9.300,-7 L-7.200,-4 L-8.600,-3.400 Z"/></g>
<use href="#bn" transform="translate(-0.200 0) scale(-1 1)"/>
<g id="bn2"><circle cx="-10.500" cy="4.400" r="1.400"/><circle cx="-7.900" cy="3.900" r="1.400"/><circle cx="-9.100" cy="6.600" r="1.300"/><path d="M-11.400,5.200 L-9.300,3.600 L-6.900,4.600 L-8.200,7.200 L-10,7.200 Z"/></g>
<use href="#bn2" transform="translate(-0.200 0) scale(-1 1)"/>
</g></defs>
<clipPath id="cc"><circle cx="966.3" cy="561.2" r="154.6"/></clipPath>
<g clip-path="url(#cc)">
<rect x="800" y="407" width="110.200" height="58.7" fill="#55a8d5"/>
<rect x="910" y="407" width="220" height="58.7" fill="#e5843b"/>
<rect x="800" y="472" width="110.200" height="85.2" fill="#55a8d5"/>
<rect x="910" y="472" width="220" height="85.2" fill="#674821"/>
<rect x="800" y="563.8" width="110.200" height="85.0" fill="#55a8d5"/>
<rect x="910" y="563.8" width="220" height="85.0" fill="#c6a172"/>
<rect x="800" y="655.3" width="110.200" height="60.7" fill="#55a8d5"/>
<rect x="910" y="655.3" width="220" height="60.7" fill="#963820"/>
</g>
<path d="M908.8,412.3 A159.6 159.6 0 0 0 908.8,710.1" fill="none" stroke="#8fd0f5" stroke-width="3.100"/>
<use href="#skull" x="892" y="449.7"/>
<use href="#skull" x="892" y="514.7"/>
<use href="#skull" x="892" y="606.7"/>
<use href="#skull" x="892" y="670.9"/>
<polyline points="914.6,431.5 915.2,431.3 915.9,430.8 916.5,430.0 917.1,429.0 917.7,427.8 918.4,426.5 919.0,425.2 919.6,424.0 920.3,423.0 920.9,422.2 921.5,421.7 922.1,421.5 922.8,421.7 923.4,422.2 924.0,423.0 924.7,424.0 925.3,425.2 925.9,426.5 926.6,427.8 927.2,429.0 927.8,430.0 928.4,430.8 929.1,431.3 929.7,431.5 930.3,431.3 931.0,430.8 931.6,430.0 932.2,429.0 932.8,427.8 933.5,426.5 934.1,425.2 934.7,424.0 935.4,423.0 936.0,422.2 936.6,421.7 937.2,421.5 937.9,421.7 938.5,422.2 939.1,423.0 939.8,424.0 940.4,425.2 941.0,426.5 941.7,427.8 942.3,429.0 942.9,430.0 943.5,430.8 944.2,431.3 944.8,431.5" fill="none" stroke="#a9ddf3" stroke-width="2.3" stroke-linecap="round" stroke-linejoin="round"/>
<polyline points="914.6,445.0 915.2,444.8 915.9,444.3 916.5,443.5 917.1,442.5 917.7,441.3 918.4,440.0 919.0,438.7 919.6,437.5 920.3,436.5 920.9,435.7 921.5,435.2 922.1,435.0 922.8,435.2 923.4,435.7 924.0,436.5 924.7,437.5 925.3,438.7 925.9,440.0 926.6,441.3 927.2,442.5 927.8,443.5 928.4,444.3 929.1,444.8 929.7,445.0 930.3,444.8 931.0,444.3 931.6,443.5 932.2,442.5 932.8,441.3 933.5,440.0 934.1,438.7 934.7,437.5 935.4,436.5 936.0,435.7 936.6,435.2 937.2,435.0 937.9,435.2 938.5,435.7 939.1,436.5 939.8,437.5 940.4,438.7 941.0,440.0 941.7,441.3 942.3,442.5 942.9,443.5 943.5,444.3 944.2,444.8 944.8,445.0" fill="none" stroke="#a9ddf3" stroke-width="2.3" stroke-linecap="round" stroke-linejoin="round"/>
<polyline points="914.6,458.4 915.2,458.2 915.9,457.7 916.5,456.9 917.1,455.9 917.7,454.7 918.4,453.4 919.0,452.1 919.6,450.9 920.3,449.9 920.9,449.1 921.5,448.6 922.1,448.4 922.8,448.6 923.4,449.1 924.0,449.9 924.7,450.9 925.3,452.1 925.9,453.4 926.6,454.7 927.2,455.9 927.8,456.9 928.4,457.7 929.1,458.2 929.7,458.4 930.3,458.2 931.0,457.7 931.6,456.9 932.2,455.9 932.8,454.7 933.5,453.4 934.1,452.1 934.7,450.9 935.4,449.9 936.0,449.1 936.6,448.6 937.2,448.4 937.9,448.6 938.5,449.1 939.1,449.9 939.8,450.9 940.4,452.1 941.0,453.4 941.7,454.7 942.3,455.9 942.9,456.9 943.5,457.7 944.2,458.2 944.8,458.4" fill="none" stroke="#a9ddf3" stroke-width="2.3" stroke-linecap="round" stroke-linejoin="round"/>
<polyline points="914.6,492.6 915.2,492.4 915.9,491.9 916.5,491.1 917.1,490.1 917.7,488.9 918.4,487.6 919.0,486.3 919.6,485.1 920.3,484.1 920.9,483.3 921.5,482.8 922.1,482.6 922.8,482.8 923.4,483.3 924.0,484.1 924.7,485.1 925.3,486.3 925.9,487.6 926.6,488.9 927.2,490.1 927.8,491.1 928.4,491.9 929.1,492.4 929.7,492.6 930.3,492.4 931.0,491.9 931.6,491.1 932.2,490.1 932.8,488.9 933.5,487.6 934.1,486.3 934.7,485.1 935.4,484.1 936.0,483.3 936.6,482.8 937.2,482.6 937.9,482.8 938.5,483.3 939.1,484.1 939.8,485.1 940.4,486.3 941.0,487.6 941.7,488.9 942.3,490.1 942.9,491.1 943.5,491.9 944.2,492.4 944.8,492.6" fill="none" stroke="#a9ddf3" stroke-width="2.3" stroke-linecap="round" stroke-linejoin="round"/>
<polyline points="914.6,505.9 915.2,505.7 915.9,505.2 916.5,504.4 917.1,503.4 917.7,502.2 918.4,500.9 919.0,499.6 919.6,498.4 920.3,497.4 920.9,496.6 921.5,496.1 922.1,495.9 922.8,496.1 923.4,496.6 924.0,497.4 924.7,498.4 925.3,499.6 925.9,500.9 926.6,502.2 927.2,503.4 927.8,504.4 928.4,505.2 929.1,505.7 929.7,505.9 930.3,505.7 931.0,505.2 931.6,504.4 932.2,503.4 932.8,502.2 933.5,500.9 934.1,499.6 934.7,498.4 935.4,497.4 936.0,496.6 936.6,496.1 937.2,495.9 937.9,496.1 938.5,496.6 939.1,497.4 939.8,498.4 940.4,499.6 941.0,500.9 941.7,502.2 942.3,503.4 942.9,504.4 943.5,505.2 944.2,505.7 944.8,505.9" fill="none" stroke="#a9ddf3" stroke-width="2.3" stroke-linecap="round" stroke-linejoin="round"/>
<polyline points="914.6,519.2 915.2,519.0 915.9,518.5 916.5,517.7 917.1,516.7 917.7,515.5 918.4,514.2 919.0,512.9 919.6,511.7 920.3,510.7 920.9,509.9 921.5,509.4 922.1,509.2 922.8,509.4 923.4,509.9 924.0,510.7 924.7,511.7 925.3,512.9 925.9,514.2 926.6,515.5 927.2,516.7 927.8,517.7 928.4,518.5 929.1,519.0 929.7,519.2 930.3,519.0 931.0,518.5 931.6,517.7 932.2,516.7 932.8,515.5 933.5,514.2 934.1,512.9 934.7,511.7 935.4,510.7 936.0,509.9 936.6,509.4 937.2,509.2 937.9,509.4 938.5,509.9 939.1,510.7 939.8,511.7 940.4,512.9 941.0,514.2 941.7,515.5 942.3,516.7 942.9,517.7 943.5,518.5 944.2,519.0 944.8,519.2" fill="none" stroke="#a9ddf3" stroke-width="2.3" stroke-linecap="round" stroke-linejoin="round"/>
<polyline points="914.6,532.5 915.2,532.3 915.9,531.8 916.5,531.0 917.1,530.0 917.7,528.8 918.4,527.5 919.0,526.2 919.6,525.0 920.3,524.0 920.9,523.2 921.5,522.7 922.1,522.5 922.8,522.7 923.4,523.2 924.0,524.0 924.7,525.0 925.3,526.2 925.9,527.5 926.6,528.8 927.2,530.0 927.8,531.0 928.4,531.8 929.1,532.3 929.7,532.5 930.3,532.3 931.0,531.8 931.6,531.0 932.2,530.0 932.8,528.8 933.5,527.5 934.1,526.2 934.7,525.0 935.4,524.0 936.0,523.2 936.6,522.7 937.2,522.5 937.9,522.7 938.5,523.2 939.1,524.0 939.8,525.0 940.4,526.2 941.0,527.5 941.7,528.8 942.3,530.0 942.9,531.0 943.5,531.8 944.2,532.3 944.8,532.5" fill="none" stroke="#a9ddf3" stroke-width="2.3" stroke-linecap="round" stroke-linejoin="round"/>
<polyline points="914.6,545.8 915.2,545.6 915.9,545.1 916.5,544.3 917.1,543.3 917.7,542.1 918.4,540.8 919.0,539.5 919.6,538.3 920.3,537.3 920.9,536.5 921.5,536.0 922.1,535.8 922.8,536.0 923.4,536.5 924.0,537.3 924.7,538.3 925.3,539.5 925.9,540.8 926.6,542.1 927.2,543.3 927.8,544.3 928.4,545.1 929.1,545.6 929.7,545.8 930.3,545.6 931.0,545.1 931.6,544.3 932.2,543.3 932.8,542.1 933.5,540.8 934.1,539.5 934.7,538.3 935.4,537.3 936.0,536.5 936.6,536.0 937.2,535.8 937.9,536.0 938.5,536.5 939.1,537.3 939.8,538.3 940.4,539.5 941.0,540.8 941.7,542.1 942.3,543.3 942.9,544.3 943.5,545.1 944.2,545.6 944.8,545.8" fill="none" stroke="#a9ddf3" stroke-width="2.3" stroke-linecap="round" stroke-linejoin="round"/>
<polyline points="914.6,584.7 915.2,584.5 915.9,584.0 916.5,583.2 917.1,582.2 917.7,581.0 918.4,579.7 919.0,578.4 919.6,577.2 920.3,576.2 920.9,575.4 921.5,574.9 922.1,574.7 922.8,574.9 923.4,575.4 924.0,576.2 924.7,577.2 925.3,578.4 925.9,579.7 926.6,581.0 927.2,582.2 927.8,583.2 928.4,584.0 929.1,584.5 929.7,584.7 930.3,584.5 931.0,584.0 931.6,583.2 932.2,582.2 932.8,581.0 933.5,579.7 934.1,578.4 934.7,577.2 935.4,576.2 936.0,575.4 936.6,574.9 937.2,574.7 937.9,574.9 938.5,575.4 939.1,576.2 939.8,577.2 940.4,578.4 941.0,579.7 941.7,581.0 942.3,582.2 942.9,583.2 943.5,584.0 944.2,584.5 944.8,584.7" fill="none" stroke="#a9ddf3" stroke-width="2.3" stroke-linecap="round" stroke-linejoin="round"/>
<polyline points="914.6,598.0 915.2,597.8 915.9,597.3 916.5,596.5 917.1,595.5 917.7,594.3 918.4,593.0 919.0,591.7 919.6,590.5 920.3,589.5 920.9,588.7 921.5,588.2 922.1,588.0 922.8,588.2 923.4,588.7 924.0,589.5 924.7,590.5 925.3,591.7 925.9,593.0 926.6,594.3 927.2,595.5 927.8,596.5 928.4,597.3 929.1,597.8 929.7,598.0 930.3,597.8 931.0,597.3 931.6,596.5 932.2,595.5 932.8,594.3 933.5,593.0 934.1,591.7 934.7,590.5 935.4,589.5 936.0,588.7 936.6,588.2 937.2,588.0 937.9,588.2 938.5,588.7 939.1,589.5 939.8,590.5 940.4,591.7 941.0,593.0 941.7,594.3 942.3,595.5 942.9,596.5 943.5,597.3 944.2,597.8 944.8,598.0" fill="none" stroke="#a9ddf3" stroke-width="2.3" stroke-linecap="round" stroke-linejoin="round"/>
<polyline points="914.6,611.3 915.2,611.1 915.9,610.6 916.5,609.8 917.1,608.8 917.7,607.6 918.4,606.3 919.0,605.0 919.6,603.8 920.3,602.8 920.9,602.0 921.5,601.5 922.1,601.3 922.8,601.5 923.4,602.0 924.0,602.8 924.7,603.8 925.3,605.0 925.9,606.3 926.6,607.6 927.2,608.8 927.8,609.8 928.4,610.6 929.1,611.1 929.7,611.3 930.3,611.1 931.0,610.6 931.6,609.8 932.2,608.8 932.8,607.6 933.5,606.3 934.1,605.0 934.7,603.8 935.4,602.8 936.0,602.0 936.6,601.5 937.2,601.3 937.9,601.5 938.5,602.0 939.1,602.8 939.8,603.8 940.4,605.0 941.0,606.3 941.7,607.6 942.3,608.8 942.9,609.8 943.5,610.6 944.2,611.1 944.8,611.3" fill="none" stroke="#a9ddf3" stroke-width="2.3" stroke-linecap="round" stroke-linejoin="round"/>
<polyline points="914.6,625.3 915.2,625.1 915.9,624.6 916.5,623.8 917.1,622.8 917.7,621.6 918.4,620.3 919.0,619.0 919.6,617.8 920.3,616.8 920.9,616.0 921.5,615.5 922.1,615.3 922.8,615.5 923.4,616.0 924.0,616.8 924.7,617.8 925.3,619.0 925.9,620.3 926.6,621.6 927.2,622.8 927.8,623.8 928.4,624.6 929.1,625.1 929.7,625.3 930.3,625.1 931.0,624.6 931.6,623.8 932.2,622.8 932.8,621.6 933.5,620.3 934.1,619.0 934.7,617.8 935.4,616.8 936.0,616.0 936.6,615.5 937.2,615.3 937.9,615.5 938.5,616.0 939.1,616.8 939.8,617.8 940.4,619.0 941.0,620.3 941.7,621.6 942.3,622.8 942.9,623.8 943.5,624.6 944.2,625.1 944.8,625.3" fill="none" stroke="#a9ddf3" stroke-width="2.3" stroke-linecap="round" stroke-linejoin="round"/>
<polyline points="914.6,638.8 915.2,638.6 915.9,638.1 916.5,637.3 917.1,636.3 917.7,635.1 918.4,633.8 919.0,632.5 919.6,631.3 920.3,630.3 920.9,629.5 921.5,629.0 922.1,628.8 922.8,629.0 923.4,629.5 924.0,630.3 924.7,631.3 925.3,632.5 925.9,633.8 926.6,635.1 927.2,636.3 927.8,637.3 928.4,638.1 929.1,638.6 929.7,638.8 930.3,638.6 931.0,638.1 931.6,637.3 932.2,636.3 932.8,635.1 933.5,633.8 934.1,632.5 934.7,631.3 935.4,630.3 936.0,629.5 936.6,629.0 937.2,628.8 937.9,629.0 938.5,629.5 939.1,630.3 939.8,631.3 940.4,632.5 941.0,633.8 941.7,635.1 942.3,636.3 942.9,637.3 943.5,638.1 944.2,638.6 944.8,638.8" fill="none" stroke="#a9ddf3" stroke-width="2.3" stroke-linecap="round" stroke-linejoin="round"/>
<polyline points="914.6,671.4 915.2,671.2 915.9,670.7 916.5,669.9 917.1,668.9 917.7,667.7 918.4,666.4 919.0,665.1 919.6,663.9 920.3,662.9 920.9,662.1 921.5,661.6 922.1,661.4 922.8,661.6 923.4,662.1 924.0,662.9 924.7,663.9 925.3,665.1 925.9,666.4 926.6,667.7 927.2,668.9 927.8,669.9 928.4,670.7 929.1,671.2 929.7,671.4 930.3,671.2 931.0,670.7 931.6,669.9 932.2,668.9 932.8,667.7 933.5,666.4 934.1,665.1 934.7,663.9 935.4,662.9 936.0,662.1 936.6,661.6 937.2,661.4 937.9,661.6 938.5,662.1 939.1,662.9 939.8,663.9 940.4,665.1 941.0,666.4 941.7,667.7 942.3,668.9 942.9,669.9 943.5,670.7 944.2,671.2 944.8,671.4" fill="none" stroke="#a9ddf3" stroke-width="2.3" stroke-linecap="round" stroke-linejoin="round"/>
<polyline points="914.6,684.7 915.2,684.5 915.9,684.0 916.5,683.2 917.1,682.2 917.7,681.0 918.4,679.7 919.0,678.4 919.6,677.2 920.3,676.2 920.9,675.4 921.5,674.9 922.1,674.7 922.8,674.9 923.4,675.4 924.0,676.2 924.7,677.2 925.3,678.4 925.9,679.7 926.6,681.0 927.2,682.2 927.8,683.2 928.4,684.0 929.1,684.5 929.7,684.7 930.3,684.5 931.0,684.0 931.6,683.2 932.2,682.2 932.8,681.0 933.5,679.7 934.1,678.4 934.7,677.2 935.4,676.2 936.0,675.4 936.6,674.9 937.2,674.7 937.9,674.9 938.5,675.4 939.1,676.2 939.8,677.2 940.4,678.4 941.0,679.7 941.7,681.0 942.3,682.2 942.9,683.2 943.5,684.0 944.2,684.5 944.8,684.7" fill="none" stroke="#a9ddf3" stroke-width="2.3" stroke-linecap="round" stroke-linejoin="round"/>
<polyline points="914.6,698.0 915.2,697.8 915.9,697.3 916.5,696.5 917.1,695.5 917.7,694.3 918.4,693.0 919.0,691.7 919.6,690.5 920.3,689.5 920.9,688.7 921.5,688.2 922.1,688.0 922.8,688.2 923.4,688.7 924.0,689.5 924.7,690.5 925.3,691.7 925.9,693.0 926.6,694.3 927.2,695.5 927.8,696.5 928.4,697.3 929.1,697.8 929.7,698.0 930.3,697.8 931.0,697.3 931.6,696.5 932.2,695.5 932.8,694.3 933.5,693.0 934.1,691.7 934.7,690.5 935.4,689.5 936.0,688.7 936.6,688.2 937.2,688.0 937.9,688.2 938.5,688.7 939.1,689.5 939.8,690.5 940.4,691.7 941.0,693.0 941.7,694.3 942.3,695.5 942.9,696.5 943.5,697.3 944.2,697.8 944.8,698.0" fill="none" stroke="#a9ddf3" stroke-width="2.3" stroke-linecap="round" stroke-linejoin="round"/>
<polygon points="953.8,414.9 965.8,412.2 968.8,423.0 964.6,424.5 963.5,421.8 959.9,423.0 961.0,426.0 956.2,427.2" fill="#f9ed32" transform="rotate(20 961.3 419.7)"/>
<polygon points="985.0,414.6 998.8,412.4 999.5,425.5 990.8,426.9 989.4,421.1 985.8,421.9" fill="#3a96d6" transform="rotate(-15 992.3 419.7)"/>
<circle cx="974.1" cy="434.6" r="2.6" fill="#d6409f"/>
<path d="M1003.5,430.8 C1011.6,428.2 1007.7,443.1 1015.8,440.5" fill="none" stroke="#6cc04a" stroke-width="2.8" stroke-linecap="round"/>
<circle cx="964.6" cy="452.7" r="4.7" fill="#3a96d6"/>
<circle cx="985.2" cy="451.7" r="4.3" fill="#f7941d"/>
<polygon points="998.0,448.3 1009.4,446.5 1010.0,457.3 1002.8,458.5 1001.6,453.7 998.6,454.3" fill="#d6409f" transform="rotate(-15 1004 452.5)"/>
<polygon points="1033.8,441.8 1045.3,439.1 1048.2,449.6 1044.2,451.0 1043.2,448.4 1039.7,449.6 1040.7,452.5 1036.1,453.6" fill="#f9ed32" transform="rotate(15 1041 446.4)"/>
<path d="M1054.0,453.0 C1060.9,446.6 1062.6,463.9 1069.5,457.5" fill="none" stroke="#3f9ad8" stroke-width="2.6" stroke-linecap="round"/>
<polygon points="958.1,480.4 970.5,478.5 971.1,490.2 963.3,491.5 962.0,486.3 958.8,486.9" fill="#6cc04a" transform="rotate(15 964.6 485)"/>
<circle cx="985.5" cy="480.2" r="2.6" fill="#d6409f"/>
<polygon points="984.5,494.9 992.9,493.1 995.0,500.6 992.0,501.7 991.3,499.8 988.8,500.6 989.5,502.7 986.1,503.6" fill="#f9ed32" transform="rotate(-20 989.7 498.3)"/>
<polygon points="957.3,502.2 968.7,500.4 969.3,511.2 962.1,512.4 960.9,507.6 957.9,508.2" fill="#d6409f" transform="rotate(-5 963.3 506.4)"/>
<polygon points="1020.5,491.8 1037.3,487.3 1032.8,504.1 1028.3,496.6" fill="#3a96d6" transform="rotate(10 1029.3 495.3)"/>
<circle cx="1055.2" cy="490" r="1.5" fill="#3a96d6"/>
<circle cx="1090.3" cy="483.2" r="1.5" fill="#3a96d6"/>
<polygon points="1078.400,490 1090.500,497.100 1087.200,503.900 1082.900,500.800 1078.900,507.400 1070.400,497.800" fill="#f7941d"/>
<circle cx="1106.9" cy="498.3" r="1.5" fill="#d6409f"/>
<circle cx="980.9" cy="519" r="5" fill="#3a96d6"/>
<circle cx="1019.2" cy="514.2" r="3.4" fill="#f9ed32"/>
<circle cx="1062" cy="517.2" r="4" fill="#3a96d6"/>
<circle cx="957.3" cy="535.8" r="2.6" fill="#d6409f"/>
<polygon points="968.6,536.2 981.9,534.1 982.6,546.7 974.2,548.1 972.8,542.5 969.3,543.2" fill="#3a96d6" transform="rotate(-30 975.6 541.1)"/>
<polygon points="991.4,531.2 1004.7,528.8 1006.6,539.2 997.8,547.2 990.3,542.7 993.8,537.6" fill="#f7941d" transform="rotate(0 998.6 537.6)"/>
<path d="M1029.8,538.0 C1028.0,530.0 1042.0,535.0 1040.2,527.0" fill="none" stroke="#6cc04a" stroke-width="2.8" stroke-linecap="round"/>
<polygon points="1065.800,532.300 1081,529.800 1077,543.700" fill="#d6409f"/>
<polygon points="970.2,578.7 982.2,576.0 985.2,586.8 981.0,588.3 980.0,585.6 976.4,586.8 977.4,589.8 972.6,591.0" fill="#f9ed32" transform="rotate(-25 977.7 583.5)"/>
<polygon points="1007.9,581.8 1024.7,577.3 1020.2,594.1 1015.7,586.6" fill="#3a96d6" transform="rotate(-5 1016.7 585.3)"/>
<circle cx="1050" cy="585.3" r="3.2" fill="#f9ed32"/>
<path d="M1085.3,577.8 C1093.5,577.1 1086.6,590.3 1094.8,589.6" fill="none" stroke="#6cc04a" stroke-width="2.8" stroke-linecap="round"/>
<polygon points="1099.4,576.0 1112.7,573.6 1114.6,584.0 1105.8,592.0 1098.3,587.5 1101.8,582.4" fill="#f7941d" transform="rotate(0 1106.6 582.4)"/>
<polygon points="959.5,603.2 976.3,598.7 971.8,615.5 967.3,608.0" fill="#3a96d6" transform="rotate(5 968.3 606.7)"/>
<polygon points="987.7,609.5 1004.5,605.0 1000.0,621.8 995.5,614.3" fill="#f7941d" transform="rotate(-5 996.5 613)"/>
<polygon points="1028.8,602.5 1040.2,600.7 1040.8,611.5 1033.6,612.7 1032.4,607.9 1029.4,608.5" fill="#d6409f" transform="rotate(-5 1034.8 606.7)"/>
<polygon points="1055.8,594.4 1072.6,589.9 1068.1,606.7 1063.6,599.2" fill="#3a96d6" transform="rotate(5 1064.6 597.9)"/>
<polygon points="1079.0,608.3 1087.4,606.5 1089.5,614.0 1086.5,615.1 1085.8,613.2 1083.3,614.0 1084.0,616.1 1080.6,617.0" fill="#f9ed32" transform="rotate(-20 1084.2 611.7)"/>
<circle cx="976.6" cy="630.1" r="4.8" fill="#3a96d6"/>
<polygon points="1041.9,622.8 1053.9,620.1 1056.9,630.9 1052.7,632.4 1051.7,629.7 1048.1,630.9 1049.1,633.9 1044.3,635.1" fill="#f9ed32" transform="rotate(-30 1049.4 627.6)"/>
<path d="M1068.0,626.0 C1076.3,623.5 1072.0,638.7 1080.3,636.2" fill="none" stroke="#3f9ad8" stroke-width="2.6" stroke-linecap="round"/>
<circle cx="957.5" cy="676" r="2.6" fill="#d6409f"/>
<polygon points="969.4,665.5 982.7,663.4 983.4,676.0 975.0,677.4 973.6,671.8 970.1,672.5" fill="#3a96d6" transform="rotate(-30 976.4 670.4)"/>
<circle cx="1010.4" cy="668.4" r="4.8" fill="#3a96d6"/>
<polygon points="1031.4,671.0 1044.7,668.6 1046.6,679.0 1037.8,687.0 1030.3,682.5 1033.8,677.4" fill="#f7941d" transform="rotate(0 1038.6 677.4)"/>
<path d="M990.0,682.8 C991.2,674.4 1002.2,685.6 1003.5,677.2" fill="none" stroke="#6cc04a" stroke-width="2.8" stroke-linecap="round"/>
<circle cx="969" cy="694" r="3.8" fill="#3a96d6"/>
<polygon points="995.3,688.0 1007.3,685.3 1010.3,696.1 1006.1,697.6 1005.0,694.9 1001.4,696.1 1002.5,699.1 997.7,700.3" fill="#f9ed32" transform="rotate(-25 1002.8 692.8)"/>
<circle cx="981.4" cy="704.2" r="2.6" fill="#d6409f"/>
<path d="M1075.600,535.400 L1160.500,443.200 L1199.900,551.400 Z" fill="#fff"/>
<circle cx="1208.200" cy="487.100" r="62.850" fill="#5d7aa8" stroke="#fff" stroke-width="3.900"/>
<polygon points="1161.900,494.400 1197.400,470 1219.600,469.300 1247.500,457.700 1242.900,510 1200.800,521.900" fill="#d4429a"/>
<use href="#skull" transform="translate(1211.500 491.900) scale(1.470)"/>
<text x="674.2" y="555.8" font-size="12.6" font-weight="bold" fill="#9fd5f3" text-anchor="start" stroke="#9fd5f3" stroke-width="0.32" stroke-linejoin="round" textLength="77.1" lengthAdjust="spacingAndGlyphs">ENVASE DE</text>
<text x="683.7" y="572.9" font-size="12.6" font-weight="bold" fill="#9fd5f3" text-anchor="start" stroke="#9fd5f3" stroke-width="0.32" stroke-linejoin="round" textLength="67.6" lengthAdjust="spacingAndGlyphs">PLÁSTICO</text>
<path d="M761.300,547 L783.300,559.500 L761.300,572 Z" fill="#9fd5f3"/>
<rect x="883.600" y="287.100" width="26.100" height="90.600" fill="#55a8d5"/>
<polyline points="916.6,302.1 917.2,301.9 917.8,301.4 918.5,300.6 919.1,299.6 919.7,298.4 920.3,297.1 920.9,295.8 921.6,294.6 922.2,293.6 922.8,292.8 923.4,292.3 924.0,292.1 924.7,292.3 925.3,292.8 925.9,293.6 926.5,294.6 927.2,295.8 927.8,297.1 928.4,298.4 929.0,299.6 929.6,300.6 930.3,301.4 930.9,301.9 931.5,302.1 932.1,301.9 932.7,301.4 933.4,300.6 934.0,299.6 934.6,298.4 935.2,297.1 935.8,295.8 936.5,294.6 937.1,293.6 937.7,292.8 938.3,292.3 939.0,292.1 939.6,292.3 940.2,292.8 940.8,293.6 941.4,294.6 942.1,295.8 942.7,297.1 943.3,298.4 943.9,299.6 944.5,300.6 945.2,301.4 945.8,301.9 946.4,302.1" fill="none" stroke="#a9ddf3" stroke-width="2.3" stroke-linecap="round" stroke-linejoin="round"/>
<polyline points="916.6,315.7 917.2,315.5 917.8,315.0 918.5,314.2 919.1,313.2 919.7,312.0 920.3,310.7 920.9,309.4 921.6,308.2 922.2,307.2 922.8,306.4 923.4,305.9 924.0,305.7 924.7,305.9 925.3,306.4 925.9,307.2 926.5,308.2 927.2,309.4 927.8,310.7 928.4,312.0 929.0,313.2 929.6,314.2 930.3,315.0 930.9,315.5 931.5,315.7 932.1,315.5 932.7,315.0 933.4,314.2 934.0,313.2 934.6,312.0 935.2,310.7 935.8,309.4 936.5,308.2 937.1,307.2 937.7,306.4 938.3,305.9 939.0,305.7 939.6,305.9 940.2,306.4 940.8,307.2 941.4,308.2 942.1,309.4 942.7,310.7 943.3,312.0 943.9,313.2 944.5,314.2 945.2,315.0 945.8,315.5 946.4,315.7" fill="none" stroke="#a9ddf3" stroke-width="2.3" stroke-linecap="round" stroke-linejoin="round"/>
<polyline points="916.6,329.3 917.2,329.1 917.8,328.6 918.5,327.8 919.1,326.8 919.7,325.6 920.3,324.3 920.9,323.0 921.6,321.8 922.2,320.8 922.8,320.0 923.4,319.5 924.0,319.3 924.7,319.5 925.3,320.0 925.9,320.8 926.5,321.8 927.2,323.0 927.8,324.3 928.4,325.6 929.0,326.8 929.6,327.8 930.3,328.6 930.9,329.1 931.5,329.3 932.1,329.1 932.7,328.6 933.4,327.8 934.0,326.8 934.6,325.6 935.2,324.3 935.8,323.0 936.5,321.8 937.1,320.8 937.7,320.0 938.3,319.5 939.0,319.3 939.6,319.5 940.2,320.0 940.8,320.8 941.4,321.8 942.1,323.0 942.7,324.3 943.3,325.6 943.9,326.8 944.5,327.8 945.2,328.6 945.8,329.1 946.4,329.3" fill="none" stroke="#a9ddf3" stroke-width="2.3" stroke-linecap="round" stroke-linejoin="round"/>
<polyline points="916.6,342.9 917.2,342.7 917.8,342.2 918.5,341.4 919.1,340.4 919.7,339.2 920.3,337.9 920.9,336.6 921.6,335.4 922.2,334.4 922.8,333.6 923.4,333.1 924.0,332.9 924.7,333.1 925.3,333.6 925.9,334.4 926.5,335.4 927.2,336.6 927.8,337.9 928.4,339.2 929.0,340.4 929.6,341.4 930.3,342.2 930.9,342.7 931.5,342.9 932.1,342.7 932.7,342.2 933.4,341.4 934.0,340.4 934.6,339.2 935.2,337.9 935.8,336.6 936.5,335.4 937.1,334.4 937.7,333.6 938.3,333.1 939.0,332.9 939.6,333.1 940.2,333.6 940.8,334.4 941.4,335.4 942.1,336.6 942.7,337.9 943.3,339.2 943.9,340.4 944.5,341.4 945.2,342.2 945.8,342.7 946.4,342.9" fill="none" stroke="#a9ddf3" stroke-width="2.3" stroke-linecap="round" stroke-linejoin="round"/>
<polyline points="916.6,356.5 917.2,356.3 917.8,355.8 918.5,355.0 919.1,354.0 919.7,352.8 920.3,351.5 920.9,350.2 921.6,349.0 922.2,348.0 922.8,347.2 923.4,346.7 924.0,346.5 924.7,346.7 925.3,347.2 925.9,348.0 926.5,349.0 927.2,350.2 927.8,351.5 928.4,352.8 929.0,354.0 929.6,355.0 930.3,355.8 930.9,356.3 931.5,356.5 932.1,356.3 932.7,355.8 933.4,355.0 934.0,354.0 934.6,352.8 935.2,351.5 935.8,350.2 936.5,349.0 937.1,348.0 937.7,347.2 938.3,346.7 939.0,346.5 939.6,346.7 940.2,347.2 940.8,348.0 941.4,349.0 942.1,350.2 942.7,351.5 943.3,352.8 943.9,354.0 944.5,355.0 945.2,355.8 945.8,356.3 946.4,356.5" fill="none" stroke="#a9ddf3" stroke-width="2.3" stroke-linecap="round" stroke-linejoin="round"/>
<polyline points="916.6,370.1 917.2,369.9 917.8,369.4 918.5,368.6 919.1,367.6 919.7,366.4 920.3,365.1 920.9,363.8 921.6,362.6 922.2,361.6 922.8,360.8 923.4,360.3 924.0,360.1 924.7,360.3 925.3,360.8 925.9,361.6 926.5,362.6 927.2,363.8 927.8,365.1 928.4,366.4 929.0,367.6 929.6,368.6 930.3,369.4 930.9,369.9 931.5,370.1 932.1,369.9 932.7,369.4 933.4,368.6 934.0,367.6 934.6,366.4 935.2,365.1 935.8,363.8 936.5,362.6 937.1,361.6 937.7,360.8 938.3,360.3 939.0,360.1 939.6,360.3 940.2,360.8 940.8,361.6 941.4,362.6 942.1,363.8 942.7,365.1 943.3,366.4 943.9,367.6 944.5,368.6 945.2,369.4 945.8,369.9 946.4,370.1" fill="none" stroke="#a9ddf3" stroke-width="2.3" stroke-linecap="round" stroke-linejoin="round"/>
<rect x="954.7" y="288.8" width="84.9" height="22.2" fill="#e5843b"/>
<rect x="954.7" y="311" width="84.9" height="21.5" fill="#674821"/>
<rect x="954.7" y="332.5" width="84.9" height="22.2" fill="#c6a172"/>
<rect x="954.7" y="354.7" width="84.9" height="21.5" fill="#963820"/>
<polygon points="964.8,293.9 972.8,292.6 973.2,300.3 968.1,301.1 967.3,297.8 965.2,298.2" fill="#6cc04a" transform="rotate(-20 969 296.9)"/>
<polygon points="979.6,297.8 989.5,295.1 986.9,305.1 984.2,300.7" fill="#f7941d" transform="rotate(-30 984.8 299.9)"/>
<polygon points="997.9,293.3 1005.9,291.5 1007.9,298.7 1005.1,299.7 1004.4,297.9 1002.0,298.7 1002.7,300.7 999.5,301.5" fill="#f9ed32" transform="rotate(30 1002.9 296.5)"/>
<polygon points="1016.6,295.3 1026.6,293.8 1027.2,303.2 1020.9,304.2 1019.8,300.1 1017.2,300.6" fill="#3a96d6" transform="rotate(-30 1021.9 299)"/>
<polygon points="962.3,319.9 972.8,317.1 970.0,327.6 967.2,322.9" fill="#f7941d" transform="rotate(-30 967.8 322.1)"/>
<circle cx="983.8" cy="324.9" r="1.8" fill="#d6409f"/>
<polygon points="990.6,321.2 997.4,319.6 999.1,325.8 996.8,326.6 996.2,325.1 994.1,325.8 994.7,327.5 992.0,328.1" fill="#f9ed32" transform="rotate(-25 994.9 323.9)"/>
<circle cx="1009.6" cy="320" r="3.8" fill="#3a96d6"/>
<polygon points="1023.3,317.7 1033.8,314.9 1031.0,325.4 1028.2,320.7" fill="#6cc04a" transform="rotate(-30 1028.8 319.9)"/>
<path d="M963.3,339.8 C970.7,337.1 967.6,351.2 975.0,348.5" fill="none" stroke="#d6409f" stroke-width="2.6" stroke-linecap="round"/>
<polygon points="982.8,339.9 990.8,338.1 992.8,345.3 990.0,346.3 989.3,344.5 986.9,345.3 987.6,347.3 984.4,348.1" fill="#f9ed32" transform="rotate(30 987.8 343.1)"/>
<polygon points="998.8,339.6 1008.3,338.1 1008.8,347.1 1002.8,348.1 1001.8,344.1 999.3,344.6" fill="#d6409f" transform="rotate(-150 1003.8 343.1)"/>
<path d="M1012.2,337.8 C1020.4,334.5 1016.1,350.3 1024.3,347.0" fill="none" stroke="#6cc04a" stroke-width="2.6" stroke-linecap="round"/>
<circle cx="1035.9" cy="345.1" r="2.7" fill="#d6409f"/>
<polygon points="961.8,359.9 972.7,358.1 973.2,368.5 966.4,369.6 965.2,365.0 962.3,365.6" fill="#d6409f" transform="rotate(-100 967.5 363.9)"/>
<path d="M982.4,360.0 C987.0,358.1 985.4,367.1 990.0,365.2" fill="none" stroke="#3f9ad8" stroke-width="1.6" stroke-linecap="round"/>
<polygon points="997.0,360.2 1007.0,358.6 1007.5,368.1 1001.2,369.1 1000.2,364.9 997.6,365.5" fill="#3a96d6" transform="rotate(-30 1002.3 363.9)"/>
<circle cx="1018.7" cy="367.3" r="2.7" fill="#d6409f"/>
<text x="1057.8" y="310.7" font-size="12.8" font-weight="bold" fill="#fff" text-anchor="start" stroke="#fff" stroke-width="0.32" stroke-linejoin="round" textLength="236.7" lengthAdjust="spacingAndGlyphs">PARTÍCULAS DE MICROPLÁSTICOS</text>
<text x="1057.8" y="328" font-size="12.8" font-weight="bold" fill="#fff" text-anchor="start" stroke="#fff" stroke-width="0.32" stroke-linejoin="round" textLength="236" lengthAdjust="spacingAndGlyphs">Y NANOPLÁSTICOS SE DISPERSAN</text>
<text x="1057.8" y="345" font-size="12.8" font-weight="bold" fill="#fff" text-anchor="start" stroke="#fff" stroke-width="0.32" stroke-linejoin="round" textLength="135.4" lengthAdjust="spacingAndGlyphs">EN LOS ALIMENTOS</text>
<rect x="884.800" y="754.800" width="26.400" height="91.100" fill="#55a8d5"/>
<use href="#skull" x="898.100" y="801.300"/>
<polyline points="917.8,769.3 918.4,769.1 919.0,768.6 919.7,767.8 920.3,766.8 920.9,765.6 921.5,764.3 922.1,763.0 922.8,761.8 923.4,760.8 924.0,760.0 924.6,759.5 925.2,759.3 925.8,759.5 926.5,760.0 927.1,760.8 927.7,761.8 928.3,763.0 928.9,764.3 929.6,765.6 930.2,766.8 930.8,767.8 931.4,768.6 932.0,769.1 932.7,769.3 933.3,769.1 933.9,768.6 934.5,767.8 935.1,766.8 935.7,765.6 936.4,764.3 937.0,763.0 937.6,761.8 938.2,760.8 938.8,760.0 939.5,759.5 940.1,759.3 940.7,759.5 941.3,760.0 941.9,760.8 942.5,761.8 943.2,763.0 943.8,764.3 944.4,765.6 945.0,766.8 945.6,767.8 946.3,768.6 946.9,769.1 947.5,769.3" fill="none" stroke="#a9ddf3" stroke-width="2.3" stroke-linecap="round" stroke-linejoin="round"/>
<polyline points="917.8,782.6 918.4,782.4 919.0,781.9 919.7,781.1 920.3,780.1 920.9,778.9 921.5,777.6 922.1,776.3 922.8,775.1 923.4,774.1 924.0,773.3 924.6,772.8 925.2,772.6 925.8,772.8 926.5,773.3 927.1,774.1 927.7,775.1 928.3,776.3 928.9,777.6 929.6,778.9 930.2,780.1 930.8,781.1 931.4,781.9 932.0,782.4 932.7,782.6 933.3,782.4 933.9,781.9 934.5,781.1 935.1,780.1 935.7,778.9 936.4,777.6 937.0,776.3 937.6,775.1 938.2,774.1 938.8,773.3 939.5,772.8 940.1,772.6 940.7,772.8 941.3,773.3 941.9,774.1 942.5,775.1 943.2,776.3 943.8,777.6 944.4,778.9 945.0,780.1 945.6,781.1 946.3,781.9 946.9,782.4 947.5,782.6" fill="none" stroke="#a9ddf3" stroke-width="2.3" stroke-linecap="round" stroke-linejoin="round"/>
<polyline points="917.8,796.1 918.4,795.9 919.0,795.4 919.7,794.6 920.3,793.6 920.9,792.4 921.5,791.1 922.1,789.8 922.8,788.6 923.4,787.6 924.0,786.8 924.6,786.3 925.2,786.1 925.8,786.3 926.5,786.8 927.1,787.6 927.7,788.6 928.3,789.8 928.9,791.1 929.6,792.4 930.2,793.6 930.8,794.6 931.4,795.4 932.0,795.9 932.7,796.1 933.3,795.9 933.9,795.4 934.5,794.6 935.1,793.6 935.7,792.4 936.4,791.1 937.0,789.8 937.6,788.6 938.2,787.6 938.8,786.8 939.5,786.3 940.1,786.1 940.7,786.3 941.3,786.8 941.9,787.6 942.5,788.6 943.2,789.8 943.8,791.1 944.4,792.4 945.0,793.6 945.6,794.6 946.3,795.4 946.9,795.9 947.5,796.1" fill="none" stroke="#a9ddf3" stroke-width="2.3" stroke-linecap="round" stroke-linejoin="round"/>
<polyline points="917.8,811.0 918.4,810.8 919.0,810.3 919.7,809.5 920.3,808.5 920.9,807.3 921.5,806.0 922.1,804.7 922.8,803.5 923.4,802.5 924.0,801.7 924.6,801.2 925.2,801.0 925.8,801.2 926.5,801.7 927.1,802.5 927.7,803.5 928.3,804.7 928.9,806.0 929.6,807.3 930.2,808.5 930.8,809.5 931.4,810.3 932.0,810.8 932.7,811.0 933.3,810.8 933.9,810.3 934.5,809.5 935.1,808.5 935.7,807.3 936.4,806.0 937.0,804.7 937.6,803.5 938.2,802.5 938.8,801.7 939.5,801.2 940.1,801.0 940.7,801.2 941.3,801.7 941.9,802.5 942.5,803.5 943.2,804.7 943.8,806.0 944.4,807.3 945.0,808.5 945.6,809.5 946.3,810.3 946.9,810.8 947.5,811.0" fill="none" stroke="#a9ddf3" stroke-width="2.3" stroke-linecap="round" stroke-linejoin="round"/>
<polyline points="917.8,824.7 918.4,824.5 919.0,824.0 919.7,823.2 920.3,822.2 920.9,821.0 921.5,819.7 922.1,818.4 922.8,817.2 923.4,816.2 924.0,815.4 924.6,814.9 925.2,814.7 925.8,814.9 926.5,815.4 927.1,816.2 927.7,817.2 928.3,818.4 928.9,819.7 929.6,821.0 930.2,822.2 930.8,823.2 931.4,824.0 932.0,824.5 932.7,824.7 933.3,824.5 933.9,824.0 934.5,823.2 935.1,822.2 935.7,821.0 936.4,819.7 937.0,818.4 937.6,817.2 938.2,816.2 938.8,815.4 939.5,814.9 940.1,814.7 940.7,814.9 941.3,815.4 941.9,816.2 942.5,817.2 943.2,818.4 943.8,819.7 944.4,821.0 945.0,822.2 945.6,823.2 946.3,824.0 946.9,824.5 947.5,824.7" fill="none" stroke="#a9ddf3" stroke-width="2.3" stroke-linecap="round" stroke-linejoin="round"/>
<polyline points="917.8,838.2 918.4,838.0 919.0,837.5 919.7,836.7 920.3,835.7 920.9,834.5 921.5,833.2 922.1,831.9 922.8,830.7 923.4,829.7 924.0,828.9 924.6,828.4 925.2,828.2 925.8,828.4 926.5,828.9 927.1,829.7 927.7,830.7 928.3,831.9 928.9,833.2 929.6,834.5 930.2,835.7 930.8,836.7 931.4,837.5 932.0,838.0 932.7,838.2 933.3,838.0 933.9,837.5 934.5,836.7 935.1,835.7 935.7,834.5 936.4,833.2 937.0,831.9 937.6,830.7 938.2,829.7 938.8,828.9 939.5,828.4 940.1,828.2 940.7,828.4 941.3,828.9 941.9,829.7 942.5,830.7 943.2,831.9 943.8,833.2 944.4,834.5 945.0,835.7 945.6,836.7 946.3,837.5 946.9,838.0 947.5,838.2" fill="none" stroke="#a9ddf3" stroke-width="2.3" stroke-linecap="round" stroke-linejoin="round"/>
<rect x="957" y="752.9" width="86" height="23.4" fill="#e5843b"/>
<rect x="957" y="776.3" width="86" height="23.7" fill="#674821"/>
<rect x="957" y="800" width="86" height="24.0" fill="#c6a172"/>
<rect x="957" y="824" width="86" height="23.0" fill="#963820"/>
<use href="#skull" x="1000.400" y="765.5"/>
<use href="#skull" x="1000.400" y="787.6"/>
<use href="#skull" x="1000.400" y="811.2"/>
<use href="#skull" x="1000.400" y="834.5"/>
<text x="1057.8" y="773.6" font-size="12.8" font-weight="bold" fill="#fff" text-anchor="start" stroke="#fff" stroke-width="0.32" stroke-linejoin="round" textLength="216" lengthAdjust="spacingAndGlyphs">SUSTANCIAS QUÍMICAS QUE SE</text>
<text x="1057.8" y="791" font-size="12.8" font-weight="bold" fill="#fff" text-anchor="start" stroke="#fff" stroke-width="0.32" stroke-linejoin="round" textLength="223.2" lengthAdjust="spacingAndGlyphs">FILTRAN DEL PLÁSTICO Y PASAN</text>
<text x="1057.8" y="808" font-size="12.8" font-weight="bold" fill="#fff" text-anchor="start" stroke="#fff" stroke-width="0.32" stroke-linejoin="round" textLength="125.2" lengthAdjust="spacingAndGlyphs">A LOS ALIMENTOS</text>
<text x="1141.6" y="587.5" font-size="12.8" font-weight="bold" fill="#fff" text-anchor="start" stroke="#fff" stroke-width="0.32" stroke-linejoin="round" textLength="160.1" lengthAdjust="spacingAndGlyphs">SUSTANCIAS QUÍMICAS</text>
<text x="1141.6" y="604.9" font-size="12.8" font-weight="bold" fill="#fff" text-anchor="start" stroke="#fff" stroke-width="0.32" stroke-linejoin="round" textLength="150.3" lengthAdjust="spacingAndGlyphs">QUE SE ENCUENTRAN</text>
<text x="1141.6" y="621.7" font-size="12.8" font-weight="bold" fill="#fff" text-anchor="start" stroke="#fff" stroke-width="0.32" stroke-linejoin="round" textLength="156.3" lengthAdjust="spacingAndGlyphs">EN LAS MICRO Y NANO</text>
<text x="1141.6" y="638.6" font-size="12.8" font-weight="bold" fill="#fff" text-anchor="start" stroke="#fff" stroke-width="0.32" stroke-linejoin="round" textLength="108.8" lengthAdjust="spacingAndGlyphs">PARTÍCULAS DE</text>
<text x="1141.6" y="654.9" font-size="12.8" font-weight="bold" fill="#fff" text-anchor="start" stroke="#fff" stroke-width="0.32" stroke-linejoin="round" textLength="154.2" lengthAdjust="spacingAndGlyphs">PLÁSTICO SE LIBERAN</text>
<text x="1141.6" y="671.2" font-size="12.8" font-weight="bold" fill="#fff" text-anchor="start" stroke="#fff" stroke-width="0.32" stroke-linejoin="round" textLength="135.5" lengthAdjust="spacingAndGlyphs">EN LOS ALIMENTOS</text>
<text x="96.6" y="943.2" font-size="19" font-weight="bold" fill="#a3d5f2" text-anchor="start" stroke="#a3d5f2" stroke-width="0.48" stroke-linejoin="round" textLength="337.6" lengthAdjust="spacingAndGlyphs">CLAVE DE LOS TIPOS DE PLÁSTICO:</text>
<text x="440.4" y="943.2" font-size="19" font-weight="normal" fill="#a3d5f2" text-anchor="start" textLength="855.2" lengthAdjust="spacingAndGlyphs">1. PET, Tereftalato de Polietileno (también conocido como poliéster). 2. HDPE, Polietileno de</text>
<text x="96.6" y="978.8" font-size="19" font-weight="normal" fill="#a3d5f2" text-anchor="start" textLength="1122.4" lengthAdjust="spacingAndGlyphs">Alta Densidad. 3. PVC, Policloruro de Vinilo. 4. LDPE Polietileno de Baja Densidad. 5. PP, Polipropileno. 6. PS, Poliestireno.</text>
<text x="96.6" y="1013.4" font-size="19" font-weight="normal" fill="#a3d5f2" text-anchor="start" textLength="671.4" lengthAdjust="spacingAndGlyphs">7. Otros, ej. Policarbonato (PC), Poliácido Láctico (PLA). Poliamida/nylon.</text>
</g>
</svg>
</body></html>
